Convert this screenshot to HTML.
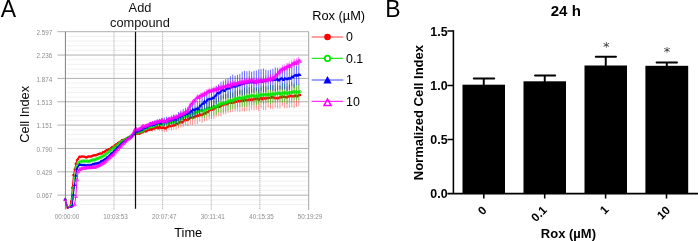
<!DOCTYPE html>
<html lang="en"><head><meta charset="utf-8"><title>Figure</title>
<style>html,body{margin:0;padding:0;background:#fff}body{width:698px;height:241px;overflow:hidden;position:relative;font-family:"Liberation Sans",Arial,sans-serif}</style>
</head><body>
<svg width="698" height="241" viewBox="0 0 698 241" style="position:absolute;left:0;top:0;display:block">
<rect width="698" height="241" fill="#fff"/>
<path d="M65.4 36.37H308.7M65.4 41.04H308.7M65.4 45.71H308.7M65.4 50.38H308.7M65.4 59.72H308.7M65.4 64.39H308.7M65.4 69.06H308.7M65.4 73.73H308.7M65.4 83.07H308.7M65.4 87.74H308.7M65.4 92.41H308.7M65.4 97.08H308.7M65.4 106.42H308.7M65.4 111.09H308.7M65.4 115.76H308.7M65.4 120.43H308.7M65.4 129.77H308.7M65.4 134.44H308.7M65.4 139.11H308.7M65.4 143.78H308.7M65.4 153.12H308.7M65.4 157.79H308.7M65.4 162.46H308.7M65.4 167.13H308.7M65.4 176.47H308.7M65.4 181.14H308.7M65.4 185.81H308.7M65.4 190.48H308.7M65.4 199.82H308.7M65.4 204.49H308.7" stroke="#ededed" stroke-width="0.8" fill="none"/>
<path d="M114.02 31.7V210M162.64 31.7V210M211.26 31.7V210M259.88 31.7V210" stroke="#8a8a8a" stroke-width="0.8" stroke-dasharray="1 1" fill="none"/>
<path d="M57.4 31.7H308.7M57.4 55.05H308.7M57.4 78.4H308.7M57.4 101.75H308.7M57.4 125.1H308.7M57.4 148.45H308.7M57.4 171.8H308.7M57.4 195.15H308.7" stroke="#b0b0b0" stroke-width="1" fill="none"/>
<path d="M65.4 31.7V209.5" stroke="#808080" stroke-width="1" fill="none"/>
<path d="M308.7 31.7V210" stroke="#a4a4a4" stroke-width="1" fill="none"/>
<g stroke="#ff0000" fill="none"><path d="M77 159.35V161.11M79.36 155.99V157.74M81.72 155.78V157.33M84.08 156.04V157.7M86.44 156.74V158.36M88.8 155.8V157.35M91.16 155.72V157.42M93.52 154.81V156.24M95.88 154.47V156.16M98.24 153.55V154.92M100.6 152.75V154.45M102.96 151.45V153.08M105.32 150.58V152.12M107.68 149.09V150.72M110.04 148.12V149.66M112.4 146.08V147.75M114.76 144.9V146.31M117.12 143.12V144.68M119.48 141.33V143.04M121.84 139.41V141.15M124.2 139.03V140.48M126.56 137.86V139.32M128.92 136.63V138.35M131.28 135.43V136.93M133.64 133.81V135.2M136 132.86V134.51M138.36 132.34V134.33M140.72 131.34V134.03M143.08 130.52V133.55M145.44 129.36V132.92M147.8 127.46V131.45M150.16 126.97V131.31M152.52 126V131.62M154.88 125.34V131.19M157.24 123.62V130.19M159.6 123.41V130.71M161.96 124.75V131.44M164.32 123.79V132.26M166.68 123.08V132.01M169.04 121.27V129.96M171.4 121.36V130.71M173.76 120.77V129.51M176.12 118.72V129.61M178.48 118.67V128.49M180.84 116.32V127.65M183.2 116.17V126.79M185.56 114.63V125.54M187.92 113.15V126.27M190.28 111.35V124.59M192.64 110.53V124.94M195 108.77V124.13M197.36 107.41V124.06M199.72 108V121.69M202.08 106.59V122.96M204.44 104.73V121.4M206.8 103.22V120.73M209.16 102V119.56M211.52 100.99V119.14M213.88 98.71V118.83M216.24 98.02V116.69M218.6 96.62V116.21M220.96 95.46V116.36M223.32 96.01V114.3M225.68 93.77V114.35M228.04 93.77V113.03M230.4 92.86V112.32M232.76 93.06V111.78M235.12 91.48V111.33M237.48 91.45V111.34M239.84 90.53V112.07M242.2 89.33V111.17M244.56 88.19V111.42M246.92 89.38V110.76M249.28 87.66V111.26M251.64 89V109.87M254 87.49V110.29M256.36 88.07V109.81M258.72 89.02V111.15M261.08 87.93V108.12M263.44 86.1V109.96M265.8 87.25V110.18M268.16 88.2V107.7M270.52 87.09V108.75M272.88 85.22V109.4M275.24 88.74V107.71M277.6 88.24V108.61M279.96 85.92V108.69M282.32 87.05V105.97M284.68 85.45V108.26M287.04 86.37V108.22M289.4 85.03V107.76M291.76 85.39V107.12M294.12 84.24V108.11M296.48 86.22V106.83M298.84 84.31V106.17" stroke-width="1" opacity="0.42"/><polyline points="65.2,199.86 66.38,204.6 67.56,207.72 68.74,206.34 69.92,205.68 71.1,201.6 72.28,187.73 73.46,174.92 74.64,169.49 75.82,163.86 77,160.23 78.18,158.64 79.36,156.87 80.54,156.96 81.72,156.56 82.9,156.54 84.08,156.87 85.26,157.03 86.44,157.55 87.62,156.86 88.8,156.57 89.98,156.5 91.16,156.57 92.34,156.05 93.52,155.52 94.7,155.32 95.88,155.31 97.06,154.82 98.24,154.23 99.42,153.87 100.6,153.6 101.78,153.38 102.96,152.26 104.14,151.92 105.32,151.35 106.5,150.31 107.68,149.9 108.86,149.17 110.04,148.89 111.22,147.93 112.4,146.92 113.58,146.63 114.76,145.6 115.94,144.5 117.12,143.9 118.3,143.07 119.48,142.18 120.66,141.54 121.84,140.28 123.02,140.09 124.2,139.75 125.38,139.13 126.56,138.59 127.74,138 128.92,137.49 130.1,136.38 131.28,136.18 132.46,134.97 133.64,134.51 134.82,133.53 136,133.69 137.18,133.69 138.36,133.33 139.54,133.68 140.72,132.68 141.9,132.54 143.08,132.03 144.26,130.97 145.44,131.14 146.62,131.3 147.8,129.46 148.98,129.93 150.16,129.14 151.34,129.7 152.52,128.81 153.7,128.59 154.88,128.27 156.06,127.78 157.24,126.9 158.42,128.23 159.6,127.06 160.78,127.85 161.96,128.09 163.14,127.51 164.32,128.02 165.5,128.39 166.68,127.54 167.86,126.84 169.04,125.62 170.22,126.18 171.4,126.04 172.58,125.76 173.76,125.14 174.94,125.17 176.12,124.16 177.3,123.8 178.48,123.58 179.66,122.31 180.84,121.98 182.02,122.54 183.2,121.48 184.38,120.02 185.56,120.08 186.74,119.89 187.92,119.71 189.1,118.74 190.28,117.97 191.46,117.5 192.64,117.74 193.82,117.21 195,116.45 196.18,116.22 197.36,115.73 198.54,115.87 199.72,114.85 200.9,114.99 202.08,114.78 203.26,114.23 204.44,113.06 205.62,113.47 206.8,111.98 207.98,111.89 209.16,110.78 210.34,109.76 211.52,110.07 212.7,109.51 213.88,108.77 215.06,108.35 216.24,107.35 217.42,106.73 218.6,106.41 219.78,106.77 220.96,105.91 222.14,104.99 223.32,105.16 224.5,104.37 225.68,104.06 226.86,104.34 228.04,103.4 229.22,102.56 230.4,102.59 231.58,102.72 232.76,102.42 233.94,102.6 235.12,101.4 236.3,101.74 237.48,101.4 238.66,101 239.84,101.3 241.02,101 242.2,100.25 243.38,100.98 244.56,99.8 245.74,100.24 246.92,100.07 248.1,100.12 249.28,99.46 250.46,99.63 251.64,99.44 252.82,99.81 254,98.89 255.18,99.19 256.36,98.94 257.54,98.39 258.72,100.08 259.9,98.75 261.08,98.03 262.26,99.24 263.44,98.03 264.62,98.59 265.8,98.72 266.98,97.94 268.16,97.95 269.34,97.81 270.52,97.92 271.7,97.19 272.88,97.31 274.06,97.75 275.24,98.22 276.42,97.98 277.6,98.42 278.78,97.9 279.96,97.31 281.14,97.42 282.32,96.51 283.5,96.94 284.68,96.86 285.86,97.3 287.04,97.29 288.22,96.58 289.4,96.39 290.58,95.79 291.76,96.26 292.94,96.26 294.12,96.17 295.3,95.45 296.48,96.52 297.66,95.99 298.84,95.24 300.02,94.88" stroke-width="1" stroke-linejoin="round"/><path d="M63.95 199.86a1.25 1.25 0 1 0 2.5 0a1.25 1.25 0 1 0 -2.5 0M65.13 204.6a1.25 1.25 0 1 0 2.5 0a1.25 1.25 0 1 0 -2.5 0M66.31 207.72a1.25 1.25 0 1 0 2.5 0a1.25 1.25 0 1 0 -2.5 0M69.85 201.6a1.25 1.25 0 1 0 2.5 0a1.25 1.25 0 1 0 -2.5 0M71.03 187.73a1.25 1.25 0 1 0 2.5 0a1.25 1.25 0 1 0 -2.5 0M72.21 174.92a1.25 1.25 0 1 0 2.5 0a1.25 1.25 0 1 0 -2.5 0M73.39 169.49a1.25 1.25 0 1 0 2.5 0a1.25 1.25 0 1 0 -2.5 0M74.57 163.86a1.25 1.25 0 1 0 2.5 0a1.25 1.25 0 1 0 -2.5 0M75.75 160.23a1.25 1.25 0 1 0 2.5 0a1.25 1.25 0 1 0 -2.5 0M76.93 158.64a1.25 1.25 0 1 0 2.5 0a1.25 1.25 0 1 0 -2.5 0M78.11 156.87a1.25 1.25 0 1 0 2.5 0a1.25 1.25 0 1 0 -2.5 0M79.29 156.96a1.25 1.25 0 1 0 2.5 0a1.25 1.25 0 1 0 -2.5 0M80.47 156.56a1.25 1.25 0 1 0 2.5 0a1.25 1.25 0 1 0 -2.5 0M81.65 156.54a1.25 1.25 0 1 0 2.5 0a1.25 1.25 0 1 0 -2.5 0M82.83 156.87a1.25 1.25 0 1 0 2.5 0a1.25 1.25 0 1 0 -2.5 0M84.01 157.03a1.25 1.25 0 1 0 2.5 0a1.25 1.25 0 1 0 -2.5 0M85.19 157.55a1.25 1.25 0 1 0 2.5 0a1.25 1.25 0 1 0 -2.5 0M86.37 156.86a1.25 1.25 0 1 0 2.5 0a1.25 1.25 0 1 0 -2.5 0M87.55 156.57a1.25 1.25 0 1 0 2.5 0a1.25 1.25 0 1 0 -2.5 0M88.73 156.5a1.25 1.25 0 1 0 2.5 0a1.25 1.25 0 1 0 -2.5 0M89.91 156.57a1.25 1.25 0 1 0 2.5 0a1.25 1.25 0 1 0 -2.5 0M91.09 156.05a1.25 1.25 0 1 0 2.5 0a1.25 1.25 0 1 0 -2.5 0M92.27 155.52a1.25 1.25 0 1 0 2.5 0a1.25 1.25 0 1 0 -2.5 0M93.45 155.32a1.25 1.25 0 1 0 2.5 0a1.25 1.25 0 1 0 -2.5 0M94.63 155.31a1.25 1.25 0 1 0 2.5 0a1.25 1.25 0 1 0 -2.5 0M95.81 154.82a1.25 1.25 0 1 0 2.5 0a1.25 1.25 0 1 0 -2.5 0M96.99 154.23a1.25 1.25 0 1 0 2.5 0a1.25 1.25 0 1 0 -2.5 0M98.17 153.87a1.25 1.25 0 1 0 2.5 0a1.25 1.25 0 1 0 -2.5 0M99.35 153.6a1.25 1.25 0 1 0 2.5 0a1.25 1.25 0 1 0 -2.5 0M100.53 153.38a1.25 1.25 0 1 0 2.5 0a1.25 1.25 0 1 0 -2.5 0M101.71 152.26a1.25 1.25 0 1 0 2.5 0a1.25 1.25 0 1 0 -2.5 0M102.89 151.92a1.25 1.25 0 1 0 2.5 0a1.25 1.25 0 1 0 -2.5 0M104.07 151.35a1.25 1.25 0 1 0 2.5 0a1.25 1.25 0 1 0 -2.5 0M105.25 150.31a1.25 1.25 0 1 0 2.5 0a1.25 1.25 0 1 0 -2.5 0M106.43 149.9a1.25 1.25 0 1 0 2.5 0a1.25 1.25 0 1 0 -2.5 0M107.61 149.17a1.25 1.25 0 1 0 2.5 0a1.25 1.25 0 1 0 -2.5 0M108.79 148.89a1.25 1.25 0 1 0 2.5 0a1.25 1.25 0 1 0 -2.5 0M109.97 147.93a1.25 1.25 0 1 0 2.5 0a1.25 1.25 0 1 0 -2.5 0M111.15 146.92a1.25 1.25 0 1 0 2.5 0a1.25 1.25 0 1 0 -2.5 0M112.33 146.63a1.25 1.25 0 1 0 2.5 0a1.25 1.25 0 1 0 -2.5 0M113.51 145.6a1.25 1.25 0 1 0 2.5 0a1.25 1.25 0 1 0 -2.5 0M114.69 144.5a1.25 1.25 0 1 0 2.5 0a1.25 1.25 0 1 0 -2.5 0M115.87 143.9a1.25 1.25 0 1 0 2.5 0a1.25 1.25 0 1 0 -2.5 0M117.05 143.07a1.25 1.25 0 1 0 2.5 0a1.25 1.25 0 1 0 -2.5 0M118.23 142.18a1.25 1.25 0 1 0 2.5 0a1.25 1.25 0 1 0 -2.5 0M119.41 141.54a1.25 1.25 0 1 0 2.5 0a1.25 1.25 0 1 0 -2.5 0M120.59 140.28a1.25 1.25 0 1 0 2.5 0a1.25 1.25 0 1 0 -2.5 0M121.77 140.09a1.25 1.25 0 1 0 2.5 0a1.25 1.25 0 1 0 -2.5 0M122.95 139.75a1.25 1.25 0 1 0 2.5 0a1.25 1.25 0 1 0 -2.5 0M124.13 139.13a1.25 1.25 0 1 0 2.5 0a1.25 1.25 0 1 0 -2.5 0M125.31 138.59a1.25 1.25 0 1 0 2.5 0a1.25 1.25 0 1 0 -2.5 0M126.49 138a1.25 1.25 0 1 0 2.5 0a1.25 1.25 0 1 0 -2.5 0M127.67 137.49a1.25 1.25 0 1 0 2.5 0a1.25 1.25 0 1 0 -2.5 0M128.85 136.38a1.25 1.25 0 1 0 2.5 0a1.25 1.25 0 1 0 -2.5 0M130.03 136.18a1.25 1.25 0 1 0 2.5 0a1.25 1.25 0 1 0 -2.5 0M131.21 134.97a1.25 1.25 0 1 0 2.5 0a1.25 1.25 0 1 0 -2.5 0M132.39 134.51a1.25 1.25 0 1 0 2.5 0a1.25 1.25 0 1 0 -2.5 0M133.57 133.53a1.25 1.25 0 1 0 2.5 0a1.25 1.25 0 1 0 -2.5 0M134.75 133.69a1.25 1.25 0 1 0 2.5 0a1.25 1.25 0 1 0 -2.5 0M135.93 133.69a1.25 1.25 0 1 0 2.5 0a1.25 1.25 0 1 0 -2.5 0M137.11 133.33a1.25 1.25 0 1 0 2.5 0a1.25 1.25 0 1 0 -2.5 0M138.29 133.68a1.25 1.25 0 1 0 2.5 0a1.25 1.25 0 1 0 -2.5 0M139.47 132.68a1.25 1.25 0 1 0 2.5 0a1.25 1.25 0 1 0 -2.5 0M140.65 132.54a1.25 1.25 0 1 0 2.5 0a1.25 1.25 0 1 0 -2.5 0M141.83 132.03a1.25 1.25 0 1 0 2.5 0a1.25 1.25 0 1 0 -2.5 0M143.01 130.97a1.25 1.25 0 1 0 2.5 0a1.25 1.25 0 1 0 -2.5 0M144.19 131.14a1.25 1.25 0 1 0 2.5 0a1.25 1.25 0 1 0 -2.5 0M145.37 131.3a1.25 1.25 0 1 0 2.5 0a1.25 1.25 0 1 0 -2.5 0M146.55 129.46a1.25 1.25 0 1 0 2.5 0a1.25 1.25 0 1 0 -2.5 0M147.73 129.93a1.25 1.25 0 1 0 2.5 0a1.25 1.25 0 1 0 -2.5 0M148.91 129.14a1.25 1.25 0 1 0 2.5 0a1.25 1.25 0 1 0 -2.5 0M150.09 129.7a1.25 1.25 0 1 0 2.5 0a1.25 1.25 0 1 0 -2.5 0M151.27 128.81a1.25 1.25 0 1 0 2.5 0a1.25 1.25 0 1 0 -2.5 0M152.45 128.59a1.25 1.25 0 1 0 2.5 0a1.25 1.25 0 1 0 -2.5 0M153.63 128.27a1.25 1.25 0 1 0 2.5 0a1.25 1.25 0 1 0 -2.5 0M154.81 127.78a1.25 1.25 0 1 0 2.5 0a1.25 1.25 0 1 0 -2.5 0M155.99 126.9a1.25 1.25 0 1 0 2.5 0a1.25 1.25 0 1 0 -2.5 0M157.17 128.23a1.25 1.25 0 1 0 2.5 0a1.25 1.25 0 1 0 -2.5 0M158.35 127.06a1.25 1.25 0 1 0 2.5 0a1.25 1.25 0 1 0 -2.5 0M159.53 127.85a1.25 1.25 0 1 0 2.5 0a1.25 1.25 0 1 0 -2.5 0M160.71 128.09a1.25 1.25 0 1 0 2.5 0a1.25 1.25 0 1 0 -2.5 0M161.89 127.51a1.25 1.25 0 1 0 2.5 0a1.25 1.25 0 1 0 -2.5 0M163.07 128.02a1.25 1.25 0 1 0 2.5 0a1.25 1.25 0 1 0 -2.5 0M164.25 128.39a1.25 1.25 0 1 0 2.5 0a1.25 1.25 0 1 0 -2.5 0M165.43 127.54a1.25 1.25 0 1 0 2.5 0a1.25 1.25 0 1 0 -2.5 0M166.61 126.84a1.25 1.25 0 1 0 2.5 0a1.25 1.25 0 1 0 -2.5 0M167.79 125.62a1.25 1.25 0 1 0 2.5 0a1.25 1.25 0 1 0 -2.5 0M168.97 126.18a1.25 1.25 0 1 0 2.5 0a1.25 1.25 0 1 0 -2.5 0M170.15 126.04a1.25 1.25 0 1 0 2.5 0a1.25 1.25 0 1 0 -2.5 0M171.33 125.76a1.25 1.25 0 1 0 2.5 0a1.25 1.25 0 1 0 -2.5 0M172.51 125.14a1.25 1.25 0 1 0 2.5 0a1.25 1.25 0 1 0 -2.5 0M173.69 125.17a1.25 1.25 0 1 0 2.5 0a1.25 1.25 0 1 0 -2.5 0M174.87 124.16a1.25 1.25 0 1 0 2.5 0a1.25 1.25 0 1 0 -2.5 0M176.05 123.8a1.25 1.25 0 1 0 2.5 0a1.25 1.25 0 1 0 -2.5 0M177.23 123.58a1.25 1.25 0 1 0 2.5 0a1.25 1.25 0 1 0 -2.5 0M178.41 122.31a1.25 1.25 0 1 0 2.5 0a1.25 1.25 0 1 0 -2.5 0M179.59 121.98a1.25 1.25 0 1 0 2.5 0a1.25 1.25 0 1 0 -2.5 0M180.77 122.54a1.25 1.25 0 1 0 2.5 0a1.25 1.25 0 1 0 -2.5 0M181.95 121.48a1.25 1.25 0 1 0 2.5 0a1.25 1.25 0 1 0 -2.5 0M183.13 120.02a1.25 1.25 0 1 0 2.5 0a1.25 1.25 0 1 0 -2.5 0M184.31 120.08a1.25 1.25 0 1 0 2.5 0a1.25 1.25 0 1 0 -2.5 0M185.49 119.89a1.25 1.25 0 1 0 2.5 0a1.25 1.25 0 1 0 -2.5 0M186.67 119.71a1.25 1.25 0 1 0 2.5 0a1.25 1.25 0 1 0 -2.5 0M187.85 118.74a1.25 1.25 0 1 0 2.5 0a1.25 1.25 0 1 0 -2.5 0M189.03 117.97a1.25 1.25 0 1 0 2.5 0a1.25 1.25 0 1 0 -2.5 0M190.21 117.5a1.25 1.25 0 1 0 2.5 0a1.25 1.25 0 1 0 -2.5 0M191.39 117.74a1.25 1.25 0 1 0 2.5 0a1.25 1.25 0 1 0 -2.5 0M192.57 117.21a1.25 1.25 0 1 0 2.5 0a1.25 1.25 0 1 0 -2.5 0M193.75 116.45a1.25 1.25 0 1 0 2.5 0a1.25 1.25 0 1 0 -2.5 0M194.93 116.22a1.25 1.25 0 1 0 2.5 0a1.25 1.25 0 1 0 -2.5 0M196.11 115.73a1.25 1.25 0 1 0 2.5 0a1.25 1.25 0 1 0 -2.5 0M197.29 115.87a1.25 1.25 0 1 0 2.5 0a1.25 1.25 0 1 0 -2.5 0M198.47 114.85a1.25 1.25 0 1 0 2.5 0a1.25 1.25 0 1 0 -2.5 0M199.65 114.99a1.25 1.25 0 1 0 2.5 0a1.25 1.25 0 1 0 -2.5 0M200.83 114.78a1.25 1.25 0 1 0 2.5 0a1.25 1.25 0 1 0 -2.5 0M202.01 114.23a1.25 1.25 0 1 0 2.5 0a1.25 1.25 0 1 0 -2.5 0M203.19 113.06a1.25 1.25 0 1 0 2.5 0a1.25 1.25 0 1 0 -2.5 0M204.37 113.47a1.25 1.25 0 1 0 2.5 0a1.25 1.25 0 1 0 -2.5 0M205.55 111.98a1.25 1.25 0 1 0 2.5 0a1.25 1.25 0 1 0 -2.5 0M206.73 111.89a1.25 1.25 0 1 0 2.5 0a1.25 1.25 0 1 0 -2.5 0M207.91 110.78a1.25 1.25 0 1 0 2.5 0a1.25 1.25 0 1 0 -2.5 0M209.09 109.76a1.25 1.25 0 1 0 2.5 0a1.25 1.25 0 1 0 -2.5 0M210.27 110.07a1.25 1.25 0 1 0 2.5 0a1.25 1.25 0 1 0 -2.5 0M211.45 109.51a1.25 1.25 0 1 0 2.5 0a1.25 1.25 0 1 0 -2.5 0M212.63 108.77a1.25 1.25 0 1 0 2.5 0a1.25 1.25 0 1 0 -2.5 0M213.81 108.35a1.25 1.25 0 1 0 2.5 0a1.25 1.25 0 1 0 -2.5 0M214.99 107.35a1.25 1.25 0 1 0 2.5 0a1.25 1.25 0 1 0 -2.5 0M216.17 106.73a1.25 1.25 0 1 0 2.5 0a1.25 1.25 0 1 0 -2.5 0M217.35 106.41a1.25 1.25 0 1 0 2.5 0a1.25 1.25 0 1 0 -2.5 0M218.53 106.77a1.25 1.25 0 1 0 2.5 0a1.25 1.25 0 1 0 -2.5 0M219.71 105.91a1.25 1.25 0 1 0 2.5 0a1.25 1.25 0 1 0 -2.5 0M220.89 104.99a1.25 1.25 0 1 0 2.5 0a1.25 1.25 0 1 0 -2.5 0M222.07 105.16a1.25 1.25 0 1 0 2.5 0a1.25 1.25 0 1 0 -2.5 0M223.25 104.37a1.25 1.25 0 1 0 2.5 0a1.25 1.25 0 1 0 -2.5 0M224.43 104.06a1.25 1.25 0 1 0 2.5 0a1.25 1.25 0 1 0 -2.5 0M225.61 104.34a1.25 1.25 0 1 0 2.5 0a1.25 1.25 0 1 0 -2.5 0M226.79 103.4a1.25 1.25 0 1 0 2.5 0a1.25 1.25 0 1 0 -2.5 0M227.97 102.56a1.25 1.25 0 1 0 2.5 0a1.25 1.25 0 1 0 -2.5 0M229.15 102.59a1.25 1.25 0 1 0 2.5 0a1.25 1.25 0 1 0 -2.5 0M230.33 102.72a1.25 1.25 0 1 0 2.5 0a1.25 1.25 0 1 0 -2.5 0M231.51 102.42a1.25 1.25 0 1 0 2.5 0a1.25 1.25 0 1 0 -2.5 0M232.69 102.6a1.25 1.25 0 1 0 2.5 0a1.25 1.25 0 1 0 -2.5 0M233.87 101.4a1.25 1.25 0 1 0 2.5 0a1.25 1.25 0 1 0 -2.5 0M235.05 101.74a1.25 1.25 0 1 0 2.5 0a1.25 1.25 0 1 0 -2.5 0M236.23 101.4a1.25 1.25 0 1 0 2.5 0a1.25 1.25 0 1 0 -2.5 0M237.41 101a1.25 1.25 0 1 0 2.5 0a1.25 1.25 0 1 0 -2.5 0M238.59 101.3a1.25 1.25 0 1 0 2.5 0a1.25 1.25 0 1 0 -2.5 0M239.77 101a1.25 1.25 0 1 0 2.5 0a1.25 1.25 0 1 0 -2.5 0M240.95 100.25a1.25 1.25 0 1 0 2.5 0a1.25 1.25 0 1 0 -2.5 0M242.13 100.98a1.25 1.25 0 1 0 2.5 0a1.25 1.25 0 1 0 -2.5 0M243.31 99.8a1.25 1.25 0 1 0 2.5 0a1.25 1.25 0 1 0 -2.5 0M244.49 100.24a1.25 1.25 0 1 0 2.5 0a1.25 1.25 0 1 0 -2.5 0M245.67 100.07a1.25 1.25 0 1 0 2.5 0a1.25 1.25 0 1 0 -2.5 0M246.85 100.12a1.25 1.25 0 1 0 2.5 0a1.25 1.25 0 1 0 -2.5 0M248.03 99.46a1.25 1.25 0 1 0 2.5 0a1.25 1.25 0 1 0 -2.5 0M249.21 99.63a1.25 1.25 0 1 0 2.5 0a1.25 1.25 0 1 0 -2.5 0M250.39 99.44a1.25 1.25 0 1 0 2.5 0a1.25 1.25 0 1 0 -2.5 0M251.57 99.81a1.25 1.25 0 1 0 2.5 0a1.25 1.25 0 1 0 -2.5 0M252.75 98.89a1.25 1.25 0 1 0 2.5 0a1.25 1.25 0 1 0 -2.5 0M253.93 99.19a1.25 1.25 0 1 0 2.5 0a1.25 1.25 0 1 0 -2.5 0M255.11 98.94a1.25 1.25 0 1 0 2.5 0a1.25 1.25 0 1 0 -2.5 0M256.29 98.39a1.25 1.25 0 1 0 2.5 0a1.25 1.25 0 1 0 -2.5 0M257.47 100.08a1.25 1.25 0 1 0 2.5 0a1.25 1.25 0 1 0 -2.5 0M258.65 98.75a1.25 1.25 0 1 0 2.5 0a1.25 1.25 0 1 0 -2.5 0M259.83 98.03a1.25 1.25 0 1 0 2.5 0a1.25 1.25 0 1 0 -2.5 0M261.01 99.24a1.25 1.25 0 1 0 2.5 0a1.25 1.25 0 1 0 -2.5 0M262.19 98.03a1.25 1.25 0 1 0 2.5 0a1.25 1.25 0 1 0 -2.5 0M263.37 98.59a1.25 1.25 0 1 0 2.5 0a1.25 1.25 0 1 0 -2.5 0M264.55 98.72a1.25 1.25 0 1 0 2.5 0a1.25 1.25 0 1 0 -2.5 0M265.73 97.94a1.25 1.25 0 1 0 2.5 0a1.25 1.25 0 1 0 -2.5 0M266.91 97.95a1.25 1.25 0 1 0 2.5 0a1.25 1.25 0 1 0 -2.5 0M268.09 97.81a1.25 1.25 0 1 0 2.5 0a1.25 1.25 0 1 0 -2.5 0M269.27 97.92a1.25 1.25 0 1 0 2.5 0a1.25 1.25 0 1 0 -2.5 0M270.45 97.19a1.25 1.25 0 1 0 2.5 0a1.25 1.25 0 1 0 -2.5 0M271.63 97.31a1.25 1.25 0 1 0 2.5 0a1.25 1.25 0 1 0 -2.5 0M272.81 97.75a1.25 1.25 0 1 0 2.5 0a1.25 1.25 0 1 0 -2.5 0M273.99 98.22a1.25 1.25 0 1 0 2.5 0a1.25 1.25 0 1 0 -2.5 0M275.17 97.98a1.25 1.25 0 1 0 2.5 0a1.25 1.25 0 1 0 -2.5 0M276.35 98.42a1.25 1.25 0 1 0 2.5 0a1.25 1.25 0 1 0 -2.5 0M277.53 97.9a1.25 1.25 0 1 0 2.5 0a1.25 1.25 0 1 0 -2.5 0M278.71 97.31a1.25 1.25 0 1 0 2.5 0a1.25 1.25 0 1 0 -2.5 0M279.89 97.42a1.25 1.25 0 1 0 2.5 0a1.25 1.25 0 1 0 -2.5 0M281.07 96.51a1.25 1.25 0 1 0 2.5 0a1.25 1.25 0 1 0 -2.5 0M282.25 96.94a1.25 1.25 0 1 0 2.5 0a1.25 1.25 0 1 0 -2.5 0M283.43 96.86a1.25 1.25 0 1 0 2.5 0a1.25 1.25 0 1 0 -2.5 0M284.61 97.3a1.25 1.25 0 1 0 2.5 0a1.25 1.25 0 1 0 -2.5 0M285.79 97.29a1.25 1.25 0 1 0 2.5 0a1.25 1.25 0 1 0 -2.5 0M286.97 96.58a1.25 1.25 0 1 0 2.5 0a1.25 1.25 0 1 0 -2.5 0M288.15 96.39a1.25 1.25 0 1 0 2.5 0a1.25 1.25 0 1 0 -2.5 0M289.33 95.79a1.25 1.25 0 1 0 2.5 0a1.25 1.25 0 1 0 -2.5 0M290.51 96.26a1.25 1.25 0 1 0 2.5 0a1.25 1.25 0 1 0 -2.5 0M291.69 96.26a1.25 1.25 0 1 0 2.5 0a1.25 1.25 0 1 0 -2.5 0M292.87 96.17a1.25 1.25 0 1 0 2.5 0a1.25 1.25 0 1 0 -2.5 0M294.05 95.45a1.25 1.25 0 1 0 2.5 0a1.25 1.25 0 1 0 -2.5 0M295.23 96.52a1.25 1.25 0 1 0 2.5 0a1.25 1.25 0 1 0 -2.5 0M296.41 95.99a1.25 1.25 0 1 0 2.5 0a1.25 1.25 0 1 0 -2.5 0M297.59 95.24a1.25 1.25 0 1 0 2.5 0a1.25 1.25 0 1 0 -2.5 0M298.77 94.88a1.25 1.25 0 1 0 2.5 0a1.25 1.25 0 1 0 -2.5 0" fill="#ff0000" stroke="none"/></g>
<g stroke="#00e800" fill="none"><path d="M77 164.75V166.4M79.36 161.77V163.24M81.72 160.41V161.95M84.08 160.25V161.9M86.44 160.56V162.19M88.8 160.69V162.26M91.16 159.66V161.1M93.52 159.13V160.62M95.88 158.42V160.05M98.24 157.64V159.18M100.6 156.27V157.92M102.96 155.26V156.9M105.32 153.82V155.32M107.68 152.11V153.51M110.04 150.17V151.81M112.4 148.27V149.77M114.76 146.76V148.35M117.12 144.77V146.18M119.48 142.47V143.89M121.84 140.79V142.32M124.2 139.43V141.06M126.56 138.32V139.72M128.92 136.66V138.33M131.28 135.08V136.78M133.64 133.51V135.14M136 132.11V133.77M138.36 131.25V133.13M140.72 130.62V132.82M143.08 129.35V132.11M145.44 127.59V130.59M147.8 126.04V129.72M150.16 124.2V128.67M152.52 123.97V128.34M154.88 122.6V128.12M157.24 121.02V126.45M159.6 121.29V126.7M161.96 120.51V127.11M164.32 119.68V126.37M166.68 119.63V126.55M169.04 118.89V126.59M171.4 118.14V127.27M173.76 117.47V126.56M176.12 116.98V125.48M178.48 114.62V125.05M180.84 114.23V123.27M183.2 112.17V122.21M185.56 111.14V121.5M187.92 108.71V121.24M190.28 109.26V119.36M192.64 107.55V120.02M195 106.49V118.97M197.36 106.18V117.93M199.72 103.13V116.93M202.08 103.08V117.92M204.44 103.03V118.18M206.8 102.53V115.57M209.16 100.33V116.52M211.52 100.88V115.76M213.88 98.28V115.65M216.24 98.48V115.1M218.6 97.3V112.29M220.96 94.81V113.12M223.32 94.62V112.57M225.68 93.7V111.57M228.04 91.6V110.79M230.4 91.46V109.71M232.76 92.54V108.87M235.12 88.46V108.95M237.48 89.86V107.37M239.84 89.23V106.71M242.2 90.28V106.67M244.56 87.79V107.34M246.92 85.99V106.46M249.28 87.24V105.59M251.64 85.4V105.42M254 87.43V105.15M256.36 87.34V105.32M258.72 87.27V104.8M261.08 85.49V103.05M263.44 85.12V103.94M265.8 85.64V103.34M268.16 86.26V102.73M270.52 84.95V104.38M272.88 85.08V102.7M275.24 84.73V102.74M277.6 85.01V102.04M279.96 85.17V101.56M282.32 83.4V102.66M284.68 83.64V101.8M287.04 83.39V103.97M289.4 84.38V100.62M291.76 82.15V102.21M294.12 83.8V100.04M296.48 83.77V100.74M298.84 84V100.21" stroke-width="1" opacity="0.6"/><polyline points="65.2,199.51 66.38,203.93 67.56,207.96 68.74,207.17 69.92,206.59 71.1,205.58 72.28,199.04 73.46,187.86 74.64,177.48 75.82,168.25 77,165.57 78.18,163.03 79.36,162.51 80.54,161.47 81.72,161.18 82.9,161.09 84.08,161.08 85.26,160.97 86.44,161.37 87.62,161.07 88.8,161.48 89.98,161.06 91.16,160.38 92.34,160.08 93.52,159.87 94.7,159.98 95.88,159.24 97.06,158.72 98.24,158.41 99.42,157.9 100.6,157.1 101.78,156.95 102.96,156.08 104.14,155.53 105.32,154.57 106.5,153.78 107.68,152.81 108.86,151.43 110.04,150.99 111.22,149.62 112.4,149.02 113.58,147.79 114.76,147.56 115.94,146.29 117.12,145.47 118.3,144.56 119.48,143.18 120.66,142.06 121.84,141.55 123.02,141.1 124.2,140.24 125.38,139.69 126.56,139.02 127.74,137.84 128.92,137.5 130.1,137.14 131.28,135.93 132.46,134.83 133.64,134.32 134.82,133.41 136,132.94 137.18,132.34 138.36,132.19 139.54,131.39 140.72,131.72 141.9,131.45 143.08,130.73 144.26,128.86 145.44,129.09 146.62,127.01 147.8,127.88 148.98,127.24 150.16,126.43 151.34,126.64 152.52,126.16 153.7,126.12 154.88,125.36 156.06,125.02 157.24,123.73 158.42,123.89 159.6,124 160.78,124.15 161.96,123.81 163.14,124.29 164.32,123.02 165.5,123.1 166.68,123.09 167.86,122.64 169.04,122.74 170.22,122.04 171.4,122.71 172.58,121.69 173.76,122.02 174.94,121.02 176.12,121.23 177.3,119.45 178.48,119.84 179.66,118.93 180.84,118.75 182.02,118.71 183.2,117.19 184.38,116.64 185.56,116.32 186.74,116.41 187.92,114.98 189.1,115.4 190.28,114.31 191.46,113.9 192.64,113.78 193.82,113.65 195,112.73 196.18,112.32 197.36,112.05 198.54,111.5 199.72,110.03 200.9,110.65 202.08,110.5 203.26,110.57 204.44,110.6 205.62,109.63 206.8,109.05 207.98,108.27 209.16,108.42 210.34,108.42 211.52,108.32 212.7,106.92 213.88,106.97 215.06,106.77 216.24,106.79 217.42,105.61 218.6,104.8 219.78,104.27 220.96,103.97 222.14,103.38 223.32,103.59 224.5,103.25 225.68,102.64 226.86,102.39 228.04,101.2 229.22,101.23 230.4,100.59 231.58,100.48 232.76,100.7 233.94,99.83 235.12,98.7 236.3,99.13 237.48,98.62 238.66,97.95 239.84,97.97 241.02,98.46 242.2,98.48 243.38,97.2 244.56,97.56 245.74,97.43 246.92,96.23 248.1,96.57 249.28,96.42 250.46,96.36 251.64,95.41 252.82,95.81 254,96.29 255.18,96.23 256.36,96.33 257.54,95.2 258.72,96.03 259.9,95.34 261.08,94.27 262.26,95.11 263.44,94.53 264.62,94.84 265.8,94.49 266.98,95 268.16,94.5 269.34,94.18 270.52,94.66 271.7,94.27 272.88,93.89 274.06,94.57 275.24,93.74 276.42,93.56 277.6,93.52 278.78,93.03 279.96,93.36 281.14,94.37 282.32,93.03 283.5,93.33 284.68,92.72 285.86,92.83 287.04,93.68 288.22,93.29 289.4,92.5 290.58,92.67 291.76,92.18 292.94,92.09 294.12,91.92 295.3,91.81 296.48,92.25 297.66,92.26 298.84,92.1 300.02,91.7" stroke-width="1" stroke-linejoin="round"/><path d="M63.95 199.51a1.25 1.25 0 1 0 2.5 0a1.25 1.25 0 1 0 -2.5 0M69.85 205.58a1.25 1.25 0 1 0 2.5 0a1.25 1.25 0 1 0 -2.5 0M71.03 199.04a1.25 1.25 0 1 0 2.5 0a1.25 1.25 0 1 0 -2.5 0M72.21 187.86a1.25 1.25 0 1 0 2.5 0a1.25 1.25 0 1 0 -2.5 0M73.39 177.48a1.25 1.25 0 1 0 2.5 0a1.25 1.25 0 1 0 -2.5 0M74.57 168.25a1.25 1.25 0 1 0 2.5 0a1.25 1.25 0 1 0 -2.5 0M75.75 165.57a1.25 1.25 0 1 0 2.5 0a1.25 1.25 0 1 0 -2.5 0M76.93 163.03a1.25 1.25 0 1 0 2.5 0a1.25 1.25 0 1 0 -2.5 0M78.11 162.51a1.25 1.25 0 1 0 2.5 0a1.25 1.25 0 1 0 -2.5 0M79.29 161.47a1.25 1.25 0 1 0 2.5 0a1.25 1.25 0 1 0 -2.5 0M80.47 161.18a1.25 1.25 0 1 0 2.5 0a1.25 1.25 0 1 0 -2.5 0M81.65 161.09a1.25 1.25 0 1 0 2.5 0a1.25 1.25 0 1 0 -2.5 0M82.83 161.08a1.25 1.25 0 1 0 2.5 0a1.25 1.25 0 1 0 -2.5 0M84.01 160.97a1.25 1.25 0 1 0 2.5 0a1.25 1.25 0 1 0 -2.5 0M85.19 161.37a1.25 1.25 0 1 0 2.5 0a1.25 1.25 0 1 0 -2.5 0M86.37 161.07a1.25 1.25 0 1 0 2.5 0a1.25 1.25 0 1 0 -2.5 0M87.55 161.48a1.25 1.25 0 1 0 2.5 0a1.25 1.25 0 1 0 -2.5 0M88.73 161.06a1.25 1.25 0 1 0 2.5 0a1.25 1.25 0 1 0 -2.5 0M89.91 160.38a1.25 1.25 0 1 0 2.5 0a1.25 1.25 0 1 0 -2.5 0M91.09 160.08a1.25 1.25 0 1 0 2.5 0a1.25 1.25 0 1 0 -2.5 0M92.27 159.87a1.25 1.25 0 1 0 2.5 0a1.25 1.25 0 1 0 -2.5 0M93.45 159.98a1.25 1.25 0 1 0 2.5 0a1.25 1.25 0 1 0 -2.5 0M94.63 159.24a1.25 1.25 0 1 0 2.5 0a1.25 1.25 0 1 0 -2.5 0M95.81 158.72a1.25 1.25 0 1 0 2.5 0a1.25 1.25 0 1 0 -2.5 0M96.99 158.41a1.25 1.25 0 1 0 2.5 0a1.25 1.25 0 1 0 -2.5 0M98.17 157.9a1.25 1.25 0 1 0 2.5 0a1.25 1.25 0 1 0 -2.5 0M99.35 157.1a1.25 1.25 0 1 0 2.5 0a1.25 1.25 0 1 0 -2.5 0M100.53 156.95a1.25 1.25 0 1 0 2.5 0a1.25 1.25 0 1 0 -2.5 0M101.71 156.08a1.25 1.25 0 1 0 2.5 0a1.25 1.25 0 1 0 -2.5 0M102.89 155.53a1.25 1.25 0 1 0 2.5 0a1.25 1.25 0 1 0 -2.5 0M104.07 154.57a1.25 1.25 0 1 0 2.5 0a1.25 1.25 0 1 0 -2.5 0M105.25 153.78a1.25 1.25 0 1 0 2.5 0a1.25 1.25 0 1 0 -2.5 0M106.43 152.81a1.25 1.25 0 1 0 2.5 0a1.25 1.25 0 1 0 -2.5 0M107.61 151.43a1.25 1.25 0 1 0 2.5 0a1.25 1.25 0 1 0 -2.5 0M108.79 150.99a1.25 1.25 0 1 0 2.5 0a1.25 1.25 0 1 0 -2.5 0M109.97 149.62a1.25 1.25 0 1 0 2.5 0a1.25 1.25 0 1 0 -2.5 0M111.15 149.02a1.25 1.25 0 1 0 2.5 0a1.25 1.25 0 1 0 -2.5 0M112.33 147.79a1.25 1.25 0 1 0 2.5 0a1.25 1.25 0 1 0 -2.5 0M113.51 147.56a1.25 1.25 0 1 0 2.5 0a1.25 1.25 0 1 0 -2.5 0M114.69 146.29a1.25 1.25 0 1 0 2.5 0a1.25 1.25 0 1 0 -2.5 0M115.87 145.47a1.25 1.25 0 1 0 2.5 0a1.25 1.25 0 1 0 -2.5 0M117.05 144.56a1.25 1.25 0 1 0 2.5 0a1.25 1.25 0 1 0 -2.5 0M118.23 143.18a1.25 1.25 0 1 0 2.5 0a1.25 1.25 0 1 0 -2.5 0M119.41 142.06a1.25 1.25 0 1 0 2.5 0a1.25 1.25 0 1 0 -2.5 0M120.59 141.55a1.25 1.25 0 1 0 2.5 0a1.25 1.25 0 1 0 -2.5 0M121.77 141.1a1.25 1.25 0 1 0 2.5 0a1.25 1.25 0 1 0 -2.5 0M122.95 140.24a1.25 1.25 0 1 0 2.5 0a1.25 1.25 0 1 0 -2.5 0M124.13 139.69a1.25 1.25 0 1 0 2.5 0a1.25 1.25 0 1 0 -2.5 0M125.31 139.02a1.25 1.25 0 1 0 2.5 0a1.25 1.25 0 1 0 -2.5 0M126.49 137.84a1.25 1.25 0 1 0 2.5 0a1.25 1.25 0 1 0 -2.5 0M127.67 137.5a1.25 1.25 0 1 0 2.5 0a1.25 1.25 0 1 0 -2.5 0M128.85 137.14a1.25 1.25 0 1 0 2.5 0a1.25 1.25 0 1 0 -2.5 0M130.03 135.93a1.25 1.25 0 1 0 2.5 0a1.25 1.25 0 1 0 -2.5 0M131.21 134.83a1.25 1.25 0 1 0 2.5 0a1.25 1.25 0 1 0 -2.5 0M132.39 134.32a1.25 1.25 0 1 0 2.5 0a1.25 1.25 0 1 0 -2.5 0M133.57 133.41a1.25 1.25 0 1 0 2.5 0a1.25 1.25 0 1 0 -2.5 0M134.75 132.94a1.25 1.25 0 1 0 2.5 0a1.25 1.25 0 1 0 -2.5 0M135.93 132.34a1.25 1.25 0 1 0 2.5 0a1.25 1.25 0 1 0 -2.5 0M137.11 132.19a1.25 1.25 0 1 0 2.5 0a1.25 1.25 0 1 0 -2.5 0M138.29 131.39a1.25 1.25 0 1 0 2.5 0a1.25 1.25 0 1 0 -2.5 0M139.47 131.72a1.25 1.25 0 1 0 2.5 0a1.25 1.25 0 1 0 -2.5 0M140.65 131.45a1.25 1.25 0 1 0 2.5 0a1.25 1.25 0 1 0 -2.5 0M141.83 130.73a1.25 1.25 0 1 0 2.5 0a1.25 1.25 0 1 0 -2.5 0M143.01 128.86a1.25 1.25 0 1 0 2.5 0a1.25 1.25 0 1 0 -2.5 0M144.19 129.09a1.25 1.25 0 1 0 2.5 0a1.25 1.25 0 1 0 -2.5 0M145.37 127.01a1.25 1.25 0 1 0 2.5 0a1.25 1.25 0 1 0 -2.5 0M146.55 127.88a1.25 1.25 0 1 0 2.5 0a1.25 1.25 0 1 0 -2.5 0M147.73 127.24a1.25 1.25 0 1 0 2.5 0a1.25 1.25 0 1 0 -2.5 0M148.91 126.43a1.25 1.25 0 1 0 2.5 0a1.25 1.25 0 1 0 -2.5 0M150.09 126.64a1.25 1.25 0 1 0 2.5 0a1.25 1.25 0 1 0 -2.5 0M151.27 126.16a1.25 1.25 0 1 0 2.5 0a1.25 1.25 0 1 0 -2.5 0M152.45 126.12a1.25 1.25 0 1 0 2.5 0a1.25 1.25 0 1 0 -2.5 0M153.63 125.36a1.25 1.25 0 1 0 2.5 0a1.25 1.25 0 1 0 -2.5 0M154.81 125.02a1.25 1.25 0 1 0 2.5 0a1.25 1.25 0 1 0 -2.5 0M155.99 123.73a1.25 1.25 0 1 0 2.5 0a1.25 1.25 0 1 0 -2.5 0M157.17 123.89a1.25 1.25 0 1 0 2.5 0a1.25 1.25 0 1 0 -2.5 0M158.35 124a1.25 1.25 0 1 0 2.5 0a1.25 1.25 0 1 0 -2.5 0M159.53 124.15a1.25 1.25 0 1 0 2.5 0a1.25 1.25 0 1 0 -2.5 0M160.71 123.81a1.25 1.25 0 1 0 2.5 0a1.25 1.25 0 1 0 -2.5 0M161.89 124.29a1.25 1.25 0 1 0 2.5 0a1.25 1.25 0 1 0 -2.5 0M163.07 123.02a1.25 1.25 0 1 0 2.5 0a1.25 1.25 0 1 0 -2.5 0M164.25 123.1a1.25 1.25 0 1 0 2.5 0a1.25 1.25 0 1 0 -2.5 0M165.43 123.09a1.25 1.25 0 1 0 2.5 0a1.25 1.25 0 1 0 -2.5 0M166.61 122.64a1.25 1.25 0 1 0 2.5 0a1.25 1.25 0 1 0 -2.5 0M167.79 122.74a1.25 1.25 0 1 0 2.5 0a1.25 1.25 0 1 0 -2.5 0M168.97 122.04a1.25 1.25 0 1 0 2.5 0a1.25 1.25 0 1 0 -2.5 0M170.15 122.71a1.25 1.25 0 1 0 2.5 0a1.25 1.25 0 1 0 -2.5 0M171.33 121.69a1.25 1.25 0 1 0 2.5 0a1.25 1.25 0 1 0 -2.5 0M172.51 122.02a1.25 1.25 0 1 0 2.5 0a1.25 1.25 0 1 0 -2.5 0M173.69 121.02a1.25 1.25 0 1 0 2.5 0a1.25 1.25 0 1 0 -2.5 0M174.87 121.23a1.25 1.25 0 1 0 2.5 0a1.25 1.25 0 1 0 -2.5 0M176.05 119.45a1.25 1.25 0 1 0 2.5 0a1.25 1.25 0 1 0 -2.5 0M177.23 119.84a1.25 1.25 0 1 0 2.5 0a1.25 1.25 0 1 0 -2.5 0M178.41 118.93a1.25 1.25 0 1 0 2.5 0a1.25 1.25 0 1 0 -2.5 0M179.59 118.75a1.25 1.25 0 1 0 2.5 0a1.25 1.25 0 1 0 -2.5 0M180.77 118.71a1.25 1.25 0 1 0 2.5 0a1.25 1.25 0 1 0 -2.5 0M181.95 117.19a1.25 1.25 0 1 0 2.5 0a1.25 1.25 0 1 0 -2.5 0M183.13 116.64a1.25 1.25 0 1 0 2.5 0a1.25 1.25 0 1 0 -2.5 0M184.31 116.32a1.25 1.25 0 1 0 2.5 0a1.25 1.25 0 1 0 -2.5 0M185.49 116.41a1.25 1.25 0 1 0 2.5 0a1.25 1.25 0 1 0 -2.5 0M186.67 114.98a1.25 1.25 0 1 0 2.5 0a1.25 1.25 0 1 0 -2.5 0M187.85 115.4a1.25 1.25 0 1 0 2.5 0a1.25 1.25 0 1 0 -2.5 0M189.03 114.31a1.25 1.25 0 1 0 2.5 0a1.25 1.25 0 1 0 -2.5 0M190.21 113.9a1.25 1.25 0 1 0 2.5 0a1.25 1.25 0 1 0 -2.5 0M191.39 113.78a1.25 1.25 0 1 0 2.5 0a1.25 1.25 0 1 0 -2.5 0M192.57 113.65a1.25 1.25 0 1 0 2.5 0a1.25 1.25 0 1 0 -2.5 0M193.75 112.73a1.25 1.25 0 1 0 2.5 0a1.25 1.25 0 1 0 -2.5 0M194.93 112.32a1.25 1.25 0 1 0 2.5 0a1.25 1.25 0 1 0 -2.5 0M196.11 112.05a1.25 1.25 0 1 0 2.5 0a1.25 1.25 0 1 0 -2.5 0M197.29 111.5a1.25 1.25 0 1 0 2.5 0a1.25 1.25 0 1 0 -2.5 0M198.47 110.03a1.25 1.25 0 1 0 2.5 0a1.25 1.25 0 1 0 -2.5 0M199.65 110.65a1.25 1.25 0 1 0 2.5 0a1.25 1.25 0 1 0 -2.5 0M200.83 110.5a1.25 1.25 0 1 0 2.5 0a1.25 1.25 0 1 0 -2.5 0M202.01 110.57a1.25 1.25 0 1 0 2.5 0a1.25 1.25 0 1 0 -2.5 0M203.19 110.6a1.25 1.25 0 1 0 2.5 0a1.25 1.25 0 1 0 -2.5 0M204.37 109.63a1.25 1.25 0 1 0 2.5 0a1.25 1.25 0 1 0 -2.5 0M205.55 109.05a1.25 1.25 0 1 0 2.5 0a1.25 1.25 0 1 0 -2.5 0M206.73 108.27a1.25 1.25 0 1 0 2.5 0a1.25 1.25 0 1 0 -2.5 0M207.91 108.42a1.25 1.25 0 1 0 2.5 0a1.25 1.25 0 1 0 -2.5 0M209.09 108.42a1.25 1.25 0 1 0 2.5 0a1.25 1.25 0 1 0 -2.5 0M210.27 108.32a1.25 1.25 0 1 0 2.5 0a1.25 1.25 0 1 0 -2.5 0M211.45 106.92a1.25 1.25 0 1 0 2.5 0a1.25 1.25 0 1 0 -2.5 0M212.63 106.97a1.25 1.25 0 1 0 2.5 0a1.25 1.25 0 1 0 -2.5 0M213.81 106.77a1.25 1.25 0 1 0 2.5 0a1.25 1.25 0 1 0 -2.5 0M214.99 106.79a1.25 1.25 0 1 0 2.5 0a1.25 1.25 0 1 0 -2.5 0M216.17 105.61a1.25 1.25 0 1 0 2.5 0a1.25 1.25 0 1 0 -2.5 0M217.35 104.8a1.25 1.25 0 1 0 2.5 0a1.25 1.25 0 1 0 -2.5 0M218.53 104.27a1.25 1.25 0 1 0 2.5 0a1.25 1.25 0 1 0 -2.5 0M219.71 103.97a1.25 1.25 0 1 0 2.5 0a1.25 1.25 0 1 0 -2.5 0M220.89 103.38a1.25 1.25 0 1 0 2.5 0a1.25 1.25 0 1 0 -2.5 0M222.07 103.59a1.25 1.25 0 1 0 2.5 0a1.25 1.25 0 1 0 -2.5 0M223.25 103.25a1.25 1.25 0 1 0 2.5 0a1.25 1.25 0 1 0 -2.5 0M224.43 102.64a1.25 1.25 0 1 0 2.5 0a1.25 1.25 0 1 0 -2.5 0M225.61 102.39a1.25 1.25 0 1 0 2.5 0a1.25 1.25 0 1 0 -2.5 0M226.79 101.2a1.25 1.25 0 1 0 2.5 0a1.25 1.25 0 1 0 -2.5 0M227.97 101.23a1.25 1.25 0 1 0 2.5 0a1.25 1.25 0 1 0 -2.5 0M229.15 100.59a1.25 1.25 0 1 0 2.5 0a1.25 1.25 0 1 0 -2.5 0M230.33 100.48a1.25 1.25 0 1 0 2.5 0a1.25 1.25 0 1 0 -2.5 0M231.51 100.7a1.25 1.25 0 1 0 2.5 0a1.25 1.25 0 1 0 -2.5 0M232.69 99.83a1.25 1.25 0 1 0 2.5 0a1.25 1.25 0 1 0 -2.5 0M233.87 98.7a1.25 1.25 0 1 0 2.5 0a1.25 1.25 0 1 0 -2.5 0M235.05 99.13a1.25 1.25 0 1 0 2.5 0a1.25 1.25 0 1 0 -2.5 0M236.23 98.62a1.25 1.25 0 1 0 2.5 0a1.25 1.25 0 1 0 -2.5 0M237.41 97.95a1.25 1.25 0 1 0 2.5 0a1.25 1.25 0 1 0 -2.5 0M238.59 97.97a1.25 1.25 0 1 0 2.5 0a1.25 1.25 0 1 0 -2.5 0M239.77 98.46a1.25 1.25 0 1 0 2.5 0a1.25 1.25 0 1 0 -2.5 0M240.95 98.48a1.25 1.25 0 1 0 2.5 0a1.25 1.25 0 1 0 -2.5 0M242.13 97.2a1.25 1.25 0 1 0 2.5 0a1.25 1.25 0 1 0 -2.5 0M243.31 97.56a1.25 1.25 0 1 0 2.5 0a1.25 1.25 0 1 0 -2.5 0M244.49 97.43a1.25 1.25 0 1 0 2.5 0a1.25 1.25 0 1 0 -2.5 0M245.67 96.23a1.25 1.25 0 1 0 2.5 0a1.25 1.25 0 1 0 -2.5 0M246.85 96.57a1.25 1.25 0 1 0 2.5 0a1.25 1.25 0 1 0 -2.5 0M248.03 96.42a1.25 1.25 0 1 0 2.5 0a1.25 1.25 0 1 0 -2.5 0M249.21 96.36a1.25 1.25 0 1 0 2.5 0a1.25 1.25 0 1 0 -2.5 0M250.39 95.41a1.25 1.25 0 1 0 2.5 0a1.25 1.25 0 1 0 -2.5 0M251.57 95.81a1.25 1.25 0 1 0 2.5 0a1.25 1.25 0 1 0 -2.5 0M252.75 96.29a1.25 1.25 0 1 0 2.5 0a1.25 1.25 0 1 0 -2.5 0M253.93 96.23a1.25 1.25 0 1 0 2.5 0a1.25 1.25 0 1 0 -2.5 0M255.11 96.33a1.25 1.25 0 1 0 2.5 0a1.25 1.25 0 1 0 -2.5 0M256.29 95.2a1.25 1.25 0 1 0 2.5 0a1.25 1.25 0 1 0 -2.5 0M257.47 96.03a1.25 1.25 0 1 0 2.5 0a1.25 1.25 0 1 0 -2.5 0M258.65 95.34a1.25 1.25 0 1 0 2.5 0a1.25 1.25 0 1 0 -2.5 0M259.83 94.27a1.25 1.25 0 1 0 2.5 0a1.25 1.25 0 1 0 -2.5 0M261.01 95.11a1.25 1.25 0 1 0 2.5 0a1.25 1.25 0 1 0 -2.5 0M262.19 94.53a1.25 1.25 0 1 0 2.5 0a1.25 1.25 0 1 0 -2.5 0M263.37 94.84a1.25 1.25 0 1 0 2.5 0a1.25 1.25 0 1 0 -2.5 0M264.55 94.49a1.25 1.25 0 1 0 2.5 0a1.25 1.25 0 1 0 -2.5 0M265.73 95a1.25 1.25 0 1 0 2.5 0a1.25 1.25 0 1 0 -2.5 0M266.91 94.5a1.25 1.25 0 1 0 2.5 0a1.25 1.25 0 1 0 -2.5 0M268.09 94.18a1.25 1.25 0 1 0 2.5 0a1.25 1.25 0 1 0 -2.5 0M269.27 94.66a1.25 1.25 0 1 0 2.5 0a1.25 1.25 0 1 0 -2.5 0M270.45 94.27a1.25 1.25 0 1 0 2.5 0a1.25 1.25 0 1 0 -2.5 0M271.63 93.89a1.25 1.25 0 1 0 2.5 0a1.25 1.25 0 1 0 -2.5 0M272.81 94.57a1.25 1.25 0 1 0 2.5 0a1.25 1.25 0 1 0 -2.5 0M273.99 93.74a1.25 1.25 0 1 0 2.5 0a1.25 1.25 0 1 0 -2.5 0M275.17 93.56a1.25 1.25 0 1 0 2.5 0a1.25 1.25 0 1 0 -2.5 0M276.35 93.52a1.25 1.25 0 1 0 2.5 0a1.25 1.25 0 1 0 -2.5 0M277.53 93.03a1.25 1.25 0 1 0 2.5 0a1.25 1.25 0 1 0 -2.5 0M278.71 93.36a1.25 1.25 0 1 0 2.5 0a1.25 1.25 0 1 0 -2.5 0M279.89 94.37a1.25 1.25 0 1 0 2.5 0a1.25 1.25 0 1 0 -2.5 0M281.07 93.03a1.25 1.25 0 1 0 2.5 0a1.25 1.25 0 1 0 -2.5 0M282.25 93.33a1.25 1.25 0 1 0 2.5 0a1.25 1.25 0 1 0 -2.5 0M283.43 92.72a1.25 1.25 0 1 0 2.5 0a1.25 1.25 0 1 0 -2.5 0M284.61 92.83a1.25 1.25 0 1 0 2.5 0a1.25 1.25 0 1 0 -2.5 0M285.79 93.68a1.25 1.25 0 1 0 2.5 0a1.25 1.25 0 1 0 -2.5 0M286.97 93.29a1.25 1.25 0 1 0 2.5 0a1.25 1.25 0 1 0 -2.5 0M288.15 92.5a1.25 1.25 0 1 0 2.5 0a1.25 1.25 0 1 0 -2.5 0M289.33 92.67a1.25 1.25 0 1 0 2.5 0a1.25 1.25 0 1 0 -2.5 0M290.51 92.18a1.25 1.25 0 1 0 2.5 0a1.25 1.25 0 1 0 -2.5 0M291.69 92.09a1.25 1.25 0 1 0 2.5 0a1.25 1.25 0 1 0 -2.5 0M292.87 91.92a1.25 1.25 0 1 0 2.5 0a1.25 1.25 0 1 0 -2.5 0M294.05 91.81a1.25 1.25 0 1 0 2.5 0a1.25 1.25 0 1 0 -2.5 0M295.23 92.25a1.25 1.25 0 1 0 2.5 0a1.25 1.25 0 1 0 -2.5 0M296.41 92.26a1.25 1.25 0 1 0 2.5 0a1.25 1.25 0 1 0 -2.5 0M297.59 92.1a1.25 1.25 0 1 0 2.5 0a1.25 1.25 0 1 0 -2.5 0M298.77 91.7a1.25 1.25 0 1 0 2.5 0a1.25 1.25 0 1 0 -2.5 0" stroke-width="0.7"/></g>
<g stroke="#0000ff" fill="none"><path d="M77 167.6V169.27M79.36 163.64V165.22M81.72 164.11V165.54M84.08 164.09V165.56M86.44 164.47V166.06M88.8 164.37V166.02M91.16 164.11V165.55M93.52 163.36V164.98M95.88 162.55V164.27M98.24 162.02V163.67M100.6 160.57V162.28M102.96 159.54V161.28M105.32 158.33V159.8M107.68 156.38V157.83M110.04 153.89V155.61M112.4 152.09V153.6M114.76 149.56V150.96M117.12 146.73V148.34M119.48 144.94V146.49M121.84 142.51V143.95M124.2 140.74V142.47M126.56 138.98V140.53M128.92 137.32V139.08M131.28 135.65V137.12M133.64 133.02V134.4M136 130.35V132.07M138.36 129.78V131.7M140.72 128.48V131.29M143.08 126.73V129.77M145.44 124.93V128.67M147.8 124.04V127.71M150.16 122.7V127.01M152.52 121.42V126.75M154.88 120.64V126.9M157.24 119.18V125.8M159.6 119.14V126.46M161.96 117.71V125.35M164.32 117.44V126.02M166.68 116.64V124.26M169.04 116.9V124.74M171.4 115.58V124.15M173.76 114.51V124.4M176.12 114.16V124.03M178.48 112.02V121.46M180.84 110.57V120.72M183.2 108.95V120.03M185.56 107.76V119.5M187.92 106.98V119.15M190.28 104.83V118.33M192.64 102.38V116.72M195 101.57V117.14M197.36 101.17V115.53M199.72 97.61V114.65M202.08 96.11V111.46M204.44 93.01V109.03M206.8 92.2V108.69M209.16 89.81V108.36M211.52 88.99V107.96M213.88 88.35V106.38M216.24 85.86V104M218.6 84.46V101.8M220.96 81.78V100.45M223.32 80.63V98.84M225.68 79.08V99.12M228.04 78.17V97.91M230.4 76.18V98.43M232.76 74.67V97.48M235.12 75.69V97.08M237.48 74.83V96.19M239.84 74.06V94.66M242.2 71.5V95.48M244.56 70.79V94.95M246.92 71.27V93.5M249.28 70.66V94.01M251.64 71.71V92.47M254 70.9V92.83M256.36 70.51V91.24M258.72 69.44V93.36M261.08 69.22V91.26M263.44 68.54V92.16M265.8 69.7V91.8M268.16 70.19V89.36M270.52 69.69V90.08M272.88 68.85V90.81M275.24 67.45V91.18M277.6 67.85V90.16M279.96 68.92V89.57M282.32 67.36V89.68M284.68 67.14V89.32M287.04 66.84V90.89M289.4 67.53V89.57M291.76 67.2V85.94M294.12 63.52V87.64M296.48 65.71V85.21M298.84 64.11V84.8" stroke-width="1" opacity="0.58"/><polyline points="65.2,199.06 66.38,203.71 67.56,208.01 68.74,207.54 69.92,206.95 71.1,206.66 72.28,205.79 73.46,194.26 74.64,184.76 75.82,175.46 77,168.44 78.18,166.27 79.36,164.43 80.54,164.73 81.72,164.83 82.9,164.79 84.08,164.82 85.26,165.17 86.44,165.27 87.62,165.04 88.8,165.19 89.98,164.97 91.16,164.83 92.34,164.14 93.52,164.17 94.7,163.54 95.88,163.41 97.06,163.11 98.24,162.84 99.42,162.62 100.6,161.42 101.78,160.89 102.96,160.41 104.14,159.35 105.32,159.06 106.5,157.6 107.68,157.1 108.86,156 110.04,154.75 111.22,153.42 112.4,152.85 113.58,151.47 114.76,150.26 115.94,149.18 117.12,147.54 118.3,146.79 119.48,145.72 120.66,144.41 121.84,143.23 123.02,142.15 124.2,141.6 125.38,140.65 126.56,139.75 127.74,138.78 128.92,138.2 130.1,137.42 131.28,136.38 132.46,135.18 133.64,133.71 134.82,132.21 136,131.21 137.18,131.37 138.36,130.74 139.54,130.23 140.72,129.88 141.9,129.46 143.08,128.25 144.26,127.91 145.44,126.8 146.62,127.22 147.8,125.88 148.98,125.73 150.16,124.86 151.34,124.65 152.52,124.08 153.7,124.77 154.88,123.77 156.06,123.14 157.24,122.49 158.42,122.46 159.6,122.8 160.78,123.11 161.96,121.53 163.14,121.58 164.32,121.73 165.5,121.27 166.68,120.45 167.86,120.85 169.04,120.82 170.22,119.42 171.4,119.87 172.58,119.85 173.76,119.45 174.94,118.35 176.12,119.1 177.3,117.83 178.48,116.74 179.66,117.07 180.84,115.64 182.02,116.04 183.2,114.49 184.38,114.83 185.56,113.63 186.74,113.82 187.92,113.06 189.1,112.35 190.28,111.58 191.46,111.45 192.64,109.55 193.82,109.96 195,109.36 196.18,108.83 197.36,108.35 198.54,108.93 199.72,106.13 200.9,105.26 202.08,103.79 203.26,103.25 204.44,101.02 205.62,102.1 206.8,100.44 207.98,99.14 209.16,99.08 210.34,98.9 211.52,98.48 212.7,97.78 213.88,97.37 215.06,95.96 216.24,94.93 217.42,92.97 218.6,93.13 219.78,92.35 220.96,91.12 222.14,89.98 223.32,89.74 224.5,90.61 225.68,89.1 226.86,88.59 228.04,88.04 229.22,88.29 230.4,87.31 231.58,86.77 232.76,86.07 233.94,86.29 235.12,86.38 236.3,85.45 237.48,85.51 238.66,84.78 239.84,84.36 241.02,83.96 242.2,83.49 243.38,83.52 244.56,82.87 245.74,82.17 246.92,82.39 248.1,82.19 249.28,82.33 250.46,82.09 251.64,82.09 252.82,81.13 254,81.86 255.18,82.18 256.36,80.87 257.54,82.09 258.72,81.4 259.9,81.07 261.08,80.24 262.26,81.42 263.44,80.35 264.62,80.42 265.8,80.75 266.98,79.9 268.16,79.78 269.34,79.56 270.52,79.89 271.7,80.06 272.88,79.83 274.06,79.73 275.24,79.32 276.42,79.46 277.6,79 278.78,80.13 279.96,79.24 281.14,78.2 282.32,78.52 283.5,79.64 284.68,78.23 285.86,78.57 287.04,78.87 288.22,78.11 289.4,78.55 290.58,78.26 291.76,76.57 292.94,76.88 294.12,75.58 295.3,75.22 296.48,75.46 297.66,75.14 298.84,74.45 300.02,74.79" stroke-width="1" stroke-linejoin="round"/><path d="M65.2 197.46L66.8 200.34H63.6ZM71.1 205.06L72.7 207.94H69.5ZM72.28 204.19L73.88 207.07H70.68ZM73.46 192.66L75.06 195.54H71.86ZM74.64 183.16L76.24 186.04H73.04ZM75.82 173.86L77.42 176.74H74.22ZM77 166.84L78.6 169.72H75.4ZM78.18 164.67L79.78 167.55H76.58ZM79.36 162.83L80.96 165.71H77.76ZM80.54 163.13L82.14 166.01H78.94ZM81.72 163.23L83.32 166.11H80.12ZM82.9 163.19L84.5 166.07H81.3ZM84.08 163.22L85.68 166.1H82.48ZM85.26 163.57L86.86 166.45H83.66ZM86.44 163.67L88.04 166.55H84.84ZM87.62 163.44L89.22 166.32H86.02ZM88.8 163.59L90.4 166.47H87.2ZM89.98 163.37L91.58 166.25H88.38ZM91.16 163.23L92.76 166.11H89.56ZM92.34 162.54L93.94 165.42H90.74ZM93.52 162.57L95.12 165.45H91.92ZM94.7 161.94L96.3 164.82H93.1ZM95.88 161.81L97.48 164.69H94.28ZM97.06 161.51L98.66 164.39H95.46ZM98.24 161.24L99.84 164.12H96.64ZM99.42 161.02L101.02 163.9H97.82ZM100.6 159.82L102.2 162.7H99ZM101.78 159.29L103.38 162.17H100.18ZM102.96 158.81L104.56 161.69H101.36ZM104.14 157.75L105.74 160.63H102.54ZM105.32 157.46L106.92 160.34H103.72ZM106.5 156L108.1 158.88H104.9ZM107.68 155.5L109.28 158.38H106.08ZM108.86 154.4L110.46 157.28H107.26ZM110.04 153.15L111.64 156.03H108.44ZM111.22 151.82L112.82 154.7H109.62ZM112.4 151.25L114 154.13H110.8ZM113.58 149.87L115.18 152.75H111.98ZM114.76 148.66L116.36 151.54H113.16ZM115.94 147.58L117.54 150.46H114.34ZM117.12 145.94L118.72 148.82H115.52ZM118.3 145.19L119.9 148.07H116.7ZM119.48 144.12L121.08 147H117.88ZM120.66 142.81L122.26 145.69H119.06ZM121.84 141.63L123.44 144.51H120.24ZM123.02 140.55L124.62 143.43H121.42ZM124.2 140L125.8 142.88H122.6ZM125.38 139.05L126.98 141.93H123.78ZM126.56 138.15L128.16 141.03H124.96ZM127.74 137.18L129.34 140.06H126.14ZM128.92 136.6L130.52 139.48H127.32ZM130.1 135.82L131.7 138.7H128.5ZM131.28 134.78L132.88 137.66H129.68ZM132.46 133.58L134.06 136.46H130.86ZM133.64 132.11L135.24 134.99H132.04ZM134.82 130.61L136.42 133.49H133.22ZM136 129.61L137.6 132.49H134.4ZM137.18 129.77L138.78 132.65H135.58ZM138.36 129.14L139.96 132.02H136.76ZM139.54 128.63L141.14 131.51H137.94ZM140.72 128.28L142.32 131.16H139.12ZM141.9 127.86L143.5 130.74H140.3ZM143.08 126.65L144.68 129.53H141.48ZM144.26 126.31L145.86 129.19H142.66ZM145.44 125.2L147.04 128.08H143.84ZM146.62 125.62L148.22 128.5H145.02ZM147.8 124.28L149.4 127.16H146.2ZM148.98 124.13L150.58 127.01H147.38ZM150.16 123.26L151.76 126.14H148.56ZM151.34 123.05L152.94 125.93H149.74ZM152.52 122.48L154.12 125.36H150.92ZM153.7 123.17L155.3 126.05H152.1ZM154.88 122.17L156.48 125.05H153.28ZM156.06 121.54L157.66 124.42H154.46ZM157.24 120.89L158.84 123.77H155.64ZM158.42 120.86L160.02 123.74H156.82ZM159.6 121.2L161.2 124.08H158ZM160.78 121.51L162.38 124.39H159.18ZM161.96 119.93L163.56 122.81H160.36ZM163.14 119.98L164.74 122.86H161.54ZM164.32 120.13L165.92 123.01H162.72ZM165.5 119.67L167.1 122.55H163.9ZM166.68 118.85L168.28 121.73H165.08ZM167.86 119.25L169.46 122.13H166.26ZM169.04 119.22L170.64 122.1H167.44ZM170.22 117.82L171.82 120.7H168.62ZM171.4 118.27L173 121.15H169.8ZM172.58 118.25L174.18 121.13H170.98ZM173.76 117.85L175.36 120.73H172.16ZM174.94 116.75L176.54 119.63H173.34ZM176.12 117.5L177.72 120.38H174.52ZM177.3 116.23L178.9 119.11H175.7ZM178.48 115.14L180.08 118.02H176.88ZM179.66 115.47L181.26 118.35H178.06ZM180.84 114.04L182.44 116.92H179.24ZM182.02 114.44L183.62 117.32H180.42ZM183.2 112.89L184.8 115.77H181.6ZM184.38 113.23L185.98 116.11H182.78ZM185.56 112.03L187.16 114.91H183.96ZM186.74 112.22L188.34 115.1H185.14ZM187.92 111.46L189.52 114.34H186.32ZM189.1 110.75L190.7 113.63H187.5ZM190.28 109.98L191.88 112.86H188.68ZM191.46 109.85L193.06 112.73H189.86ZM192.64 107.95L194.24 110.83H191.04ZM193.82 108.36L195.42 111.24H192.22ZM195 107.76L196.6 110.64H193.4ZM196.18 107.23L197.78 110.11H194.58ZM197.36 106.75L198.96 109.63H195.76ZM198.54 107.33L200.14 110.21H196.94ZM199.72 104.53L201.32 107.41H198.12ZM200.9 103.66L202.5 106.54H199.3ZM202.08 102.19L203.68 105.07H200.48ZM203.26 101.65L204.86 104.53H201.66ZM204.44 99.42L206.04 102.3H202.84ZM205.62 100.5L207.22 103.38H204.02ZM206.8 98.84L208.4 101.72H205.2ZM207.98 97.54L209.58 100.42H206.38ZM209.16 97.48L210.76 100.36H207.56ZM210.34 97.3L211.94 100.18H208.74ZM211.52 96.88L213.12 99.76H209.92ZM212.7 96.18L214.3 99.06H211.1ZM213.88 95.77L215.48 98.65H212.28ZM215.06 94.36L216.66 97.24H213.46ZM216.24 93.33L217.84 96.21H214.64ZM217.42 91.37L219.02 94.25H215.82ZM218.6 91.53L220.2 94.41H217ZM219.78 90.75L221.38 93.63H218.18ZM220.96 89.52L222.56 92.4H219.36ZM222.14 88.38L223.74 91.26H220.54ZM223.32 88.14L224.92 91.02H221.72ZM224.5 89.01L226.1 91.89H222.9ZM225.68 87.5L227.28 90.38H224.08ZM226.86 86.99L228.46 89.87H225.26ZM228.04 86.44L229.64 89.32H226.44ZM229.22 86.69L230.82 89.57H227.62ZM230.4 85.71L232 88.59H228.8ZM231.58 85.17L233.18 88.05H229.98ZM232.76 84.47L234.36 87.35H231.16ZM233.94 84.69L235.54 87.57H232.34ZM235.12 84.78L236.72 87.66H233.52ZM236.3 83.85L237.9 86.73H234.7ZM237.48 83.91L239.08 86.79H235.88ZM238.66 83.18L240.26 86.06H237.06ZM239.84 82.76L241.44 85.64H238.24ZM241.02 82.36L242.62 85.24H239.42ZM242.2 81.89L243.8 84.77H240.6ZM243.38 81.92L244.98 84.8H241.78ZM244.56 81.27L246.16 84.15H242.96ZM245.74 80.57L247.34 83.45H244.14ZM246.92 80.79L248.52 83.67H245.32ZM248.1 80.59L249.7 83.47H246.5ZM249.28 80.73L250.88 83.61H247.68ZM250.46 80.49L252.06 83.37H248.86ZM251.64 80.49L253.24 83.37H250.04ZM252.82 79.53L254.42 82.41H251.22ZM254 80.26L255.6 83.14H252.4ZM255.18 80.58L256.78 83.46H253.58ZM256.36 79.27L257.96 82.15H254.76ZM257.54 80.49L259.14 83.37H255.94ZM258.72 79.8L260.32 82.68H257.12ZM259.9 79.47L261.5 82.35H258.3ZM261.08 78.64L262.68 81.52H259.48ZM262.26 79.82L263.86 82.7H260.66ZM263.44 78.75L265.04 81.63H261.84ZM264.62 78.82L266.22 81.7H263.02ZM265.8 79.15L267.4 82.03H264.2ZM266.98 78.3L268.58 81.18H265.38ZM268.16 78.18L269.76 81.06H266.56ZM269.34 77.96L270.94 80.84H267.74ZM270.52 78.29L272.12 81.17H268.92ZM271.7 78.46L273.3 81.34H270.1ZM272.88 78.23L274.48 81.11H271.28ZM274.06 78.13L275.66 81.01H272.46ZM275.24 77.72L276.84 80.6H273.64ZM276.42 77.86L278.02 80.74H274.82ZM277.6 77.4L279.2 80.28H276ZM278.78 78.53L280.38 81.41H277.18ZM279.96 77.64L281.56 80.52H278.36ZM281.14 76.6L282.74 79.48H279.54ZM282.32 76.92L283.92 79.8H280.72ZM283.5 78.04L285.1 80.92H281.9ZM284.68 76.63L286.28 79.51H283.08ZM285.86 76.97L287.46 79.85H284.26ZM287.04 77.27L288.64 80.15H285.44ZM288.22 76.51L289.82 79.39H286.62ZM289.4 76.95L291 79.83H287.8ZM290.58 76.66L292.18 79.54H288.98ZM291.76 74.97L293.36 77.85H290.16ZM292.94 75.28L294.54 78.16H291.34ZM294.12 73.98L295.72 76.86H292.52ZM295.3 73.62L296.9 76.5H293.7ZM296.48 73.86L298.08 76.74H294.88ZM297.66 73.54L299.26 76.42H296.06ZM298.84 72.85L300.44 75.73H297.24ZM300.02 73.19L301.62 76.07H298.42Z" fill="#0000ff" stroke="none"/></g>
<g stroke="#ff00ff" fill="none"><path d="M77 178.75V180.51M79.36 168.94V170.4M81.72 167.42V168.82M84.08 166.99V168.38M86.44 166.75V168.14M88.8 166.71V168.08M91.16 166.61V168.15M93.52 166.26V167.98M95.88 165.74V167.48M98.24 164.57V166.29M100.6 163.77V165.28M102.96 162.28V163.91M105.32 160.74V162.13M107.68 158.25V159.92M110.04 156.46V157.93M112.4 154.32V155.94M114.76 151.94V153.42M117.12 149.09V150.64M119.48 146.5V148.04M121.84 144.01V145.61M124.2 141.97V143.46M126.56 139.14V140.58M128.92 137.48V139.06M131.28 135.5V137.17M133.64 131.41V132.93M136 127.74V129.48M138.36 128.34V130.28M140.72 127.17V129.23M143.08 124.62V126.84M145.44 124.6V127.33M147.8 123.97V126.42M150.16 122.06V124.88M152.52 121.45V124.36M154.88 120.64V124.06M157.24 120.33V123.16M159.6 118.83V122.6M161.96 118.42V121.79M164.32 119.35V123.29M166.68 118.7V122.22M169.04 116.78V120.96M171.4 116.26V120.2M173.76 115.07V119M176.12 115.2V119.26M178.48 113.65V117.85M180.84 111.6V116.83M183.2 111.21V116.05M185.56 109.93V114.73M187.92 107.55V113.16M190.28 102.73V108.13M192.64 99.81V105.55M195 97.72V103.06M197.36 94.38V99.73M199.72 94.09V99.51M202.08 92.26V98.13M204.44 90.63V96.75M206.8 89.11V95.76M209.16 87.69V94.07M211.52 87.41V93.93M213.88 86.43V92.78M216.24 86.14V92.99M218.6 84.33V91.61M220.96 84.84V91.49M223.32 82.77V90.76M225.68 81.55V90.01M228.04 80.62V88.56M230.4 81.07V88.49M232.76 80.13V88.88M235.12 80.5V87.55M237.48 79.34V86.52M239.84 78.86V87.19M242.2 77.8V86.22M244.56 78.34V85.89M246.92 77.76V84.75M249.28 75.98V84.06M251.64 76.5V83.99M254 77.66V86.16M256.36 78.16V85.09M258.72 77.2V85.07M261.08 77V84.14M263.44 76.14V84.83M265.8 75.45V84.2M268.16 75.31V83.28M270.52 74.22V82.4M272.88 73.88V82.44M275.24 71.75V80.36M277.6 70.26V77.29M279.96 67.27V74.74M282.32 64.85V73.23M284.68 64.47V71.82M287.04 62.88V70.53M289.4 61.69V70.46M291.76 60.28V68.03M294.12 58.5V66.45M296.48 58.4V65.65M298.84 56.9V63.99" stroke-width="1" opacity="0.5"/><polyline points="65.2,199.51 66.38,203.39 67.56,207.08 68.74,208.12 69.92,207.12 71.1,206.97 72.28,206.69 73.46,206.77 74.64,204.44 75.82,196.22 77,179.63 78.18,171.48 79.36,169.67 80.54,169.16 81.72,168.12 82.9,168.11 84.08,167.69 85.26,168.23 86.44,167.44 87.62,167.14 88.8,167.39 89.98,167.37 91.16,167.38 92.34,166.91 93.52,167.12 94.7,167.23 95.88,166.61 97.06,166.34 98.24,165.43 99.42,165.11 100.6,164.52 101.78,163.79 102.96,163.1 104.14,162.5 105.32,161.44 106.5,160.54 107.68,159.09 108.86,158.05 110.04,157.19 111.22,155.92 112.4,155.13 113.58,154.17 114.76,152.68 115.94,151.16 117.12,149.87 118.3,149 119.48,147.27 120.66,146.16 121.84,144.81 123.02,143.69 124.2,142.72 125.38,141.21 126.56,139.86 127.74,139.46 128.92,138.27 130.1,137.43 131.28,136.33 132.46,134.56 133.64,132.17 134.82,129.7 136,128.61 137.18,129.83 138.36,129.31 139.54,128.6 140.72,128.2 141.9,127.04 143.08,125.73 144.26,126.4 145.44,125.96 146.62,125.32 147.8,125.19 148.98,124.38 150.16,123.47 151.34,123.74 152.52,122.91 153.7,123.16 154.88,122.35 156.06,122.09 157.24,121.74 158.42,121.54 159.6,120.71 160.78,121.28 161.96,120.11 163.14,121.23 164.32,121.32 165.5,121.57 166.68,120.46 167.86,119.62 169.04,118.87 170.22,120.1 171.4,118.23 172.58,118.92 173.76,117.04 174.94,117.48 176.12,117.23 177.3,116.49 178.48,115.75 179.66,114.82 180.84,114.21 182.02,114.49 183.2,113.63 184.38,112.76 185.56,112.33 186.74,111.22 187.92,110.35 189.1,108.4 190.28,105.43 191.46,103.76 192.64,102.68 193.82,100.55 195,100.39 196.18,98.78 197.36,97.06 198.54,97.06 199.72,96.8 200.9,94.92 202.08,95.2 203.26,94.29 204.44,93.69 205.62,93.54 206.8,92.44 207.98,91.46 209.16,90.88 210.34,90.94 211.52,90.67 212.7,90 213.88,89.6 215.06,89.31 216.24,89.57 217.42,88.88 218.6,87.97 219.78,87.83 220.96,88.16 222.14,87.02 223.32,86.76 224.5,86.59 225.68,85.78 226.86,86.32 228.04,84.59 229.22,85.92 230.4,84.78 231.58,84.11 232.76,84.51 233.94,83.31 235.12,84.03 236.3,83.84 237.48,82.93 238.66,82.72 239.84,83.02 241.02,82 242.2,82.01 243.38,81.86 244.56,82.11 245.74,81.05 246.92,81.26 248.1,81.72 249.28,80.02 250.46,81.02 251.64,80.24 252.82,80.24 254,81.91 255.18,81.09 256.36,81.63 257.54,80.82 258.72,81.13 259.9,80.66 261.08,80.57 262.26,80.65 263.44,80.48 264.62,80.86 265.8,79.83 266.98,79.83 268.16,79.29 269.34,79.22 270.52,78.31 271.7,79.14 272.88,78.16 274.06,77.48 275.24,76.06 276.42,75.29 277.6,73.77 278.78,72.24 279.96,71.01 281.14,69.77 282.32,69.04 283.5,68.36 284.68,68.14 285.86,67.72 287.04,66.7 288.22,65.26 289.4,66.08 290.58,65.74 291.76,64.15 292.94,63.67 294.12,62.47 295.3,63.29 296.48,62.03 297.66,62.84 298.84,60.45 300.02,61.14" stroke-width="1" stroke-linejoin="round"/><path d="M65.2 197.91L66.8 200.79H63.6ZM74.64 202.84L76.24 205.72H73.04ZM75.82 194.62L77.42 197.5H74.22ZM77 178.03L78.6 180.91H75.4ZM78.18 169.88L79.78 172.76H76.58ZM79.36 168.07L80.96 170.95H77.76ZM80.54 167.56L82.14 170.44H78.94ZM81.72 166.52L83.32 169.4H80.12ZM82.9 166.51L84.5 169.39H81.3ZM84.08 166.09L85.68 168.97H82.48ZM85.26 166.63L86.86 169.51H83.66ZM86.44 165.84L88.04 168.72H84.84ZM87.62 165.54L89.22 168.42H86.02ZM88.8 165.79L90.4 168.67H87.2ZM89.98 165.77L91.58 168.65H88.38ZM91.16 165.78L92.76 168.66H89.56ZM92.34 165.31L93.94 168.19H90.74ZM93.52 165.52L95.12 168.4H91.92ZM94.7 165.63L96.3 168.51H93.1ZM95.88 165.01L97.48 167.89H94.28ZM97.06 164.74L98.66 167.62H95.46ZM98.24 163.83L99.84 166.71H96.64ZM99.42 163.51L101.02 166.39H97.82ZM100.6 162.92L102.2 165.8H99ZM101.78 162.19L103.38 165.07H100.18ZM102.96 161.5L104.56 164.38H101.36ZM104.14 160.9L105.74 163.78H102.54ZM105.32 159.84L106.92 162.72H103.72ZM106.5 158.94L108.1 161.82H104.9ZM107.68 157.49L109.28 160.37H106.08ZM108.86 156.45L110.46 159.33H107.26ZM110.04 155.59L111.64 158.47H108.44ZM111.22 154.32L112.82 157.2H109.62ZM112.4 153.53L114 156.41H110.8ZM113.58 152.57L115.18 155.45H111.98ZM114.76 151.08L116.36 153.96H113.16ZM115.94 149.56L117.54 152.44H114.34ZM117.12 148.27L118.72 151.15H115.52ZM118.3 147.4L119.9 150.28H116.7ZM119.48 145.67L121.08 148.55H117.88ZM120.66 144.56L122.26 147.44H119.06ZM121.84 143.21L123.44 146.09H120.24ZM123.02 142.09L124.62 144.97H121.42ZM124.2 141.12L125.8 144H122.6ZM125.38 139.61L126.98 142.49H123.78ZM126.56 138.26L128.16 141.14H124.96ZM127.74 137.86L129.34 140.74H126.14ZM128.92 136.67L130.52 139.55H127.32ZM130.1 135.83L131.7 138.71H128.5ZM131.28 134.73L132.88 137.61H129.68ZM132.46 132.96L134.06 135.84H130.86ZM133.64 130.57L135.24 133.45H132.04ZM134.82 128.1L136.42 130.98H133.22ZM136 127.01L137.6 129.89H134.4ZM137.18 128.23L138.78 131.11H135.58ZM138.36 127.71L139.96 130.59H136.76ZM139.54 127L141.14 129.88H137.94ZM140.72 126.6L142.32 129.48H139.12ZM141.9 125.44L143.5 128.32H140.3ZM143.08 124.13L144.68 127.01H141.48ZM144.26 124.8L145.86 127.68H142.66ZM145.44 124.36L147.04 127.24H143.84ZM146.62 123.72L148.22 126.6H145.02ZM147.8 123.59L149.4 126.47H146.2ZM148.98 122.78L150.58 125.66H147.38ZM150.16 121.87L151.76 124.75H148.56ZM151.34 122.14L152.94 125.02H149.74ZM152.52 121.31L154.12 124.19H150.92ZM153.7 121.56L155.3 124.44H152.1ZM154.88 120.75L156.48 123.63H153.28ZM156.06 120.49L157.66 123.37H154.46ZM157.24 120.14L158.84 123.02H155.64ZM158.42 119.94L160.02 122.82H156.82ZM159.6 119.11L161.2 121.99H158ZM160.78 119.68L162.38 122.56H159.18ZM161.96 118.51L163.56 121.39H160.36ZM163.14 119.63L164.74 122.51H161.54ZM164.32 119.72L165.92 122.6H162.72ZM165.5 119.97L167.1 122.85H163.9ZM166.68 118.86L168.28 121.74H165.08ZM167.86 118.02L169.46 120.9H166.26ZM169.04 117.27L170.64 120.15H167.44ZM170.22 118.5L171.82 121.38H168.62ZM171.4 116.63L173 119.51H169.8ZM172.58 117.32L174.18 120.2H170.98ZM173.76 115.44L175.36 118.32H172.16ZM174.94 115.88L176.54 118.76H173.34ZM176.12 115.63L177.72 118.51H174.52ZM177.3 114.89L178.9 117.77H175.7ZM178.48 114.15L180.08 117.03H176.88ZM179.66 113.22L181.26 116.1H178.06ZM180.84 112.61L182.44 115.49H179.24ZM182.02 112.89L183.62 115.77H180.42ZM183.2 112.03L184.8 114.91H181.6ZM184.38 111.16L185.98 114.04H182.78ZM185.56 110.73L187.16 113.61H183.96ZM186.74 109.62L188.34 112.5H185.14ZM187.92 108.75L189.52 111.63H186.32ZM189.1 106.8L190.7 109.68H187.5ZM190.28 103.83L191.88 106.71H188.68ZM191.46 102.16L193.06 105.04H189.86ZM192.64 101.08L194.24 103.96H191.04ZM193.82 98.95L195.42 101.83H192.22ZM195 98.79L196.6 101.67H193.4ZM196.18 97.18L197.78 100.06H194.58ZM197.36 95.46L198.96 98.34H195.76ZM198.54 95.46L200.14 98.34H196.94ZM199.72 95.2L201.32 98.08H198.12ZM200.9 93.32L202.5 96.2H199.3ZM202.08 93.6L203.68 96.48H200.48ZM203.26 92.69L204.86 95.57H201.66ZM204.44 92.09L206.04 94.97H202.84ZM205.62 91.94L207.22 94.82H204.02ZM206.8 90.84L208.4 93.72H205.2ZM207.98 89.86L209.58 92.74H206.38ZM209.16 89.28L210.76 92.16H207.56ZM210.34 89.34L211.94 92.22H208.74ZM211.52 89.07L213.12 91.95H209.92ZM212.7 88.4L214.3 91.28H211.1ZM213.88 88L215.48 90.88H212.28ZM215.06 87.71L216.66 90.59H213.46ZM216.24 87.97L217.84 90.85H214.64ZM217.42 87.28L219.02 90.16H215.82ZM218.6 86.37L220.2 89.25H217ZM219.78 86.23L221.38 89.11H218.18ZM220.96 86.56L222.56 89.44H219.36ZM222.14 85.42L223.74 88.3H220.54ZM223.32 85.16L224.92 88.04H221.72ZM224.5 84.99L226.1 87.87H222.9ZM225.68 84.18L227.28 87.06H224.08ZM226.86 84.72L228.46 87.6H225.26ZM228.04 82.99L229.64 85.87H226.44ZM229.22 84.32L230.82 87.2H227.62ZM230.4 83.18L232 86.06H228.8ZM231.58 82.51L233.18 85.39H229.98ZM232.76 82.91L234.36 85.79H231.16ZM233.94 81.71L235.54 84.59H232.34ZM235.12 82.43L236.72 85.31H233.52ZM236.3 82.24L237.9 85.12H234.7ZM237.48 81.33L239.08 84.21H235.88ZM238.66 81.12L240.26 84H237.06ZM239.84 81.42L241.44 84.3H238.24ZM241.02 80.4L242.62 83.28H239.42ZM242.2 80.41L243.8 83.29H240.6ZM243.38 80.26L244.98 83.14H241.78ZM244.56 80.51L246.16 83.39H242.96ZM245.74 79.45L247.34 82.33H244.14ZM246.92 79.66L248.52 82.54H245.32ZM248.1 80.12L249.7 83H246.5ZM249.28 78.42L250.88 81.3H247.68ZM250.46 79.42L252.06 82.3H248.86ZM251.64 78.64L253.24 81.52H250.04ZM252.82 78.64L254.42 81.52H251.22ZM254 80.31L255.6 83.19H252.4ZM255.18 79.49L256.78 82.37H253.58ZM256.36 80.03L257.96 82.91H254.76ZM257.54 79.22L259.14 82.1H255.94ZM258.72 79.53L260.32 82.41H257.12ZM259.9 79.06L261.5 81.94H258.3ZM261.08 78.97L262.68 81.85H259.48ZM262.26 79.05L263.86 81.93H260.66ZM263.44 78.88L265.04 81.76H261.84ZM264.62 79.26L266.22 82.14H263.02ZM265.8 78.23L267.4 81.11H264.2ZM266.98 78.23L268.58 81.11H265.38ZM268.16 77.69L269.76 80.57H266.56ZM269.34 77.62L270.94 80.5H267.74ZM270.52 76.71L272.12 79.59H268.92ZM271.7 77.54L273.3 80.42H270.1ZM272.88 76.56L274.48 79.44H271.28ZM274.06 75.88L275.66 78.76H272.46ZM275.24 74.46L276.84 77.34H273.64ZM276.42 73.69L278.02 76.57H274.82ZM277.6 72.17L279.2 75.05H276ZM278.78 70.64L280.38 73.52H277.18ZM279.96 69.41L281.56 72.29H278.36ZM281.14 68.17L282.74 71.05H279.54ZM282.32 67.44L283.92 70.32H280.72ZM283.5 66.76L285.1 69.64H281.9ZM284.68 66.54L286.28 69.42H283.08ZM285.86 66.12L287.46 69H284.26ZM287.04 65.1L288.64 67.98H285.44ZM288.22 63.66L289.82 66.54H286.62ZM289.4 64.48L291 67.36H287.8ZM290.58 64.14L292.18 67.02H288.98ZM291.76 62.55L293.36 65.43H290.16ZM292.94 62.07L294.54 64.95H291.34ZM294.12 60.87L295.72 63.75H292.52ZM295.3 61.69L296.9 64.57H293.7ZM296.48 60.43L298.08 63.31H294.88ZM297.66 61.24L299.26 64.12H296.06ZM298.84 58.85L300.44 61.73H297.24ZM300.02 59.54L301.62 62.42H298.42Z" stroke-width="0.7"/></g>
<path d="M135.5 31.7V208.8" stroke="#111" stroke-width="1.25" fill="none"/>
<g font-family="Liberation Sans, Arial, sans-serif" fill="#000">
<text x="0.8" y="17.3" font-size="23">A</text>
<text x="140" y="12.1" font-size="12.8" text-anchor="middle" fill="#111">Add</text>
<text x="139.9" y="26.6" font-size="12.8" text-anchor="middle" fill="#111">compound</text>
<text transform="translate(29.2 114.4) rotate(-90)" font-size="12.8" text-anchor="middle">Cell Index</text>
<text x="188.2" y="237.4" font-size="12.8" text-anchor="middle">Time</text>
<text x="312.2" y="19.7" font-size="12.8">Rox (µM)</text>
<text x="346" y="41.3" font-size="12.4">0</text>
<text x="346" y="62.6" font-size="12.4">0.1</text>
<text x="346" y="83.9" font-size="12.4">1</text>
<text x="346" y="105.7" font-size="12.4">10</text>
</g>
<g font-family="Liberation Sans, Arial, sans-serif" fill="#8e8e8e" font-size="6.3">
<text x="52.2" y="35" text-anchor="end">2.597</text>
<text x="52.2" y="58.35" text-anchor="end">2.236</text>
<text x="52.2" y="81.7" text-anchor="end">1.874</text>
<text x="52.2" y="105.05" text-anchor="end">1.513</text>
<text x="52.2" y="128.4" text-anchor="end">1.151</text>
<text x="52.2" y="151.75" text-anchor="end">0.790</text>
<text x="52.2" y="175.1" text-anchor="end">0.429</text>
<text x="52.2" y="198.45" text-anchor="end">0.067</text>
<text x="67" y="219.2" text-anchor="middle">00:00:00</text>
<text x="115.62" y="219.2" text-anchor="middle">10:03:53</text>
<text x="164.24" y="219.2" text-anchor="middle">20:07:47</text>
<text x="212.86" y="219.2" text-anchor="middle">30:11:41</text>
<text x="261.48" y="219.2" text-anchor="middle">40:15:35</text>
<text x="310.1" y="219.2" text-anchor="middle">50:19:29</text>
</g>
<path d="M311.7 37H343.3" stroke="#ff0000" stroke-width="1.1" opacity="0.75"/>
<circle cx="327.5" cy="37" r="3.3" fill="#ff0000"/>
<path d="M311.7 58.4H324.2M330.8 58.4H343.3" stroke="#00e800" stroke-width="1.1" opacity="0.85"/>
<circle cx="327.5" cy="58.4" r="2.7" fill="#fff" stroke="#00e800" stroke-width="1.7"/>
<path d="M311.7 80H343.3" stroke="#0000ff" stroke-width="1.1" opacity="0.75"/>
<path d="M327.5 76.1L331.6 83.6H323.4Z" fill="#0000ff"/>
<path d="M311.7 101.4H343.3" stroke="#ff00ff" stroke-width="1.1" opacity="0.8"/>
<path d="M327.5 99.10000000000001L331.0 105.60000000000001H324.0Z" fill="#fff" stroke="#ff00ff" stroke-width="1.5"/>
<g stroke="#000" stroke-width="1.55" fill="none">
<path d="M453.4 30.25V193.6M447.4 193.6H698"/>
<path d="M447.4 30.9H453.4M447.4 85.4H453.4M447.4 139.5H453.4"/>
<path d="M483.8 193.6V198.5M544.7 193.6V198.5M605.6 193.6V198.5M666.5 193.6V198.5"/>
</g>
<rect x="462.5" y="84.7" width="42.5" height="108.9" fill="#000"/>
<path d="M483.75 84.7V78.4M473.8 78.4H494.2" stroke="#000" stroke-width="1.95" stroke-linecap="round" fill="none"/>
<rect x="523.5" y="81.3" width="42.5" height="112.3" fill="#000"/>
<path d="M544.75 81.3V75.4M535.0 75.4H555.2" stroke="#000" stroke-width="1.95" stroke-linecap="round" fill="none"/>
<rect x="584.5" y="65.5" width="42.5" height="128.1" fill="#000"/>
<path d="M605.75 65.5V56.7M595.8 56.7H616.0" stroke="#000" stroke-width="1.95" stroke-linecap="round" fill="none"/>
<rect x="645.4" y="65.8" width="42.8" height="127.8" fill="#000"/>
<path d="M666.8 65.8V62.5M656.5999999999999 62.5H677.0" stroke="#000" stroke-width="1.95" stroke-linecap="round" fill="none"/>
<g font-family="Liberation Sans, Arial, sans-serif" font-weight="bold" fill="#000">
<text x="385.3" y="16.7" font-size="23" font-weight="normal">B</text>
<text x="565.8" y="15.9" font-size="15" text-anchor="middle">24 h</text>
<text x="447.6" y="35.5" font-size="12.4" text-anchor="end">1.5</text>
<text x="447.6" y="90" font-size="12.4" text-anchor="end">1.0</text>
<text x="447.6" y="144.1" font-size="12.4" text-anchor="end">0.5</text>
<text x="447.6" y="198.2" font-size="12.4" text-anchor="end">0.0</text>
<text transform="translate(423.4 112.6) rotate(-90)" font-size="12.7" text-anchor="middle" textLength="135.3" lengthAdjust="spacingAndGlyphs">Normalized Cell Index</text>
<text x="568.4" y="237.8" font-size="13" text-anchor="middle">Rox (µM)</text>
<text transform="translate(487.5 211.1) rotate(-45)" font-size="11.8" text-anchor="end">0</text>
<text transform="translate(547.7 210.9) rotate(-45)" font-size="11.8" text-anchor="end">0.1</text>
<text transform="translate(609.3 210.3) rotate(-45)" font-size="11.8" text-anchor="end">1</text>
<text transform="translate(671.0 211.0) rotate(-45)" font-size="11.8" text-anchor="end">10</text>
</g>
<g font-family="DejaVu Sans, sans-serif" fill="#3a3a3a" font-size="13" text-anchor="middle"><text x="606.2" y="50.6">*</text><text x="667" y="56">*</text></g>
</svg>
</body></html>
